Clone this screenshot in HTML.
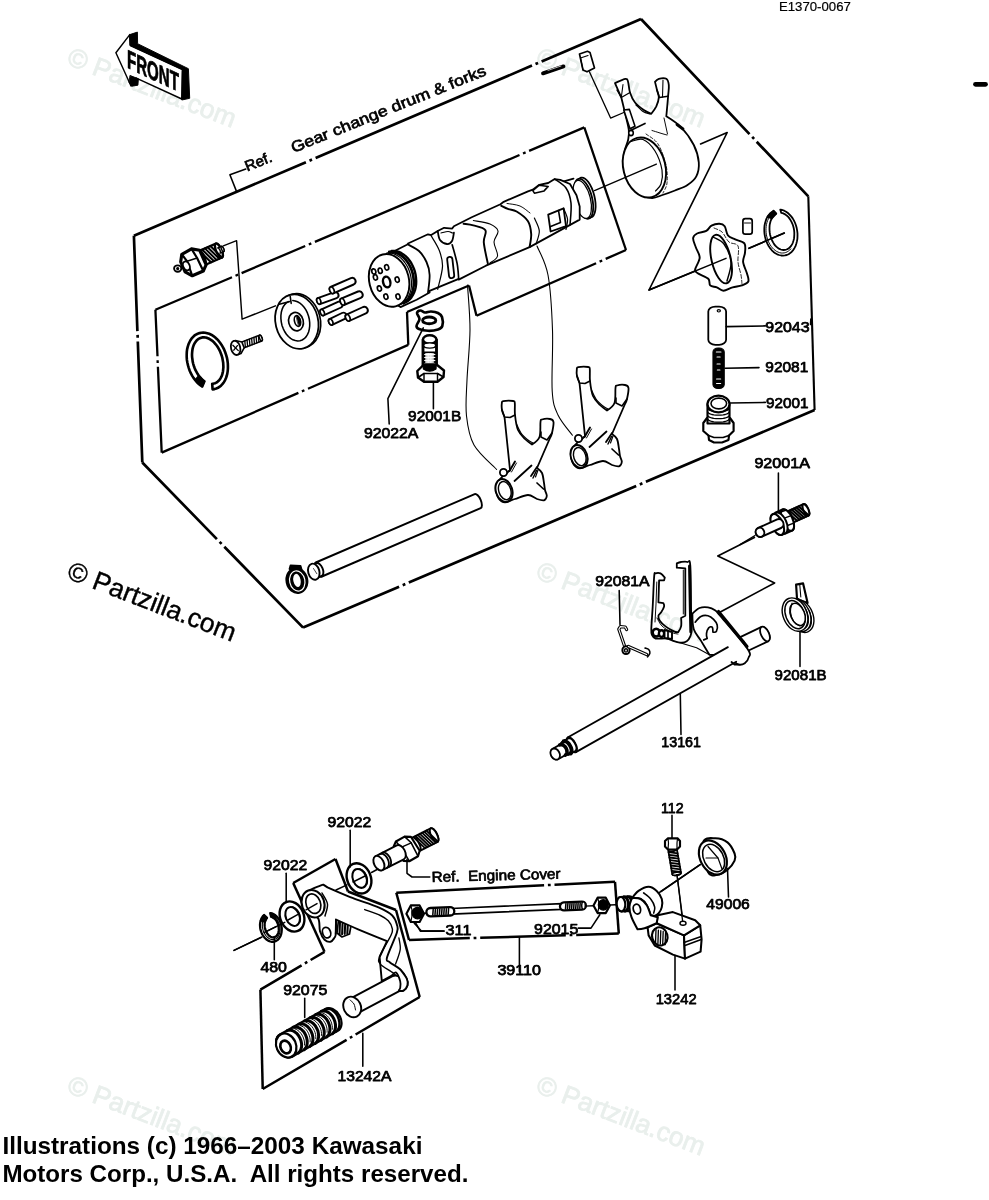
<!DOCTYPE html>
<html><head><meta charset="utf-8"><title>Gear Change Mechanism</title>
<style>
html,body{margin:0;padding:0;background:#fff;}
body{width:989px;height:1200px;overflow:hidden;font-family:"Liberation Sans",sans-serif;}
svg{display:block;will-change:transform;}
svg text{font-family:"Liberation Sans",sans-serif;}
</style></head><body>
<svg width="989" height="1200" viewBox="0 0 989 1200" stroke-linejoin="round" stroke-linecap="round">
<rect width="989" height="1200" fill="#fff"/>
<g id="wm">
<text x="65.8" y="64.1" font-size="26.5" font-weight="normal" fill="#e9efec" stroke="#e9efec" stroke-width="0.8" textLength="178" lengthAdjust="spacingAndGlyphs" transform="rotate(21 65.8 64.1)" text-anchor="start" xml:space="preserve">© Partzilla.com</text>
<text x="65.8" y="578.1" font-size="26.5" font-weight="normal" fill="#000" stroke="#000" stroke-width="0.4" textLength="178" lengthAdjust="spacingAndGlyphs" transform="rotate(21 65.8 578.1)" text-anchor="start" xml:space="preserve">© Partzilla.com</text>
<text x="65.8" y="1092.1" font-size="26.5" font-weight="normal" fill="#e9efec" stroke="#e9efec" stroke-width="0.8" textLength="178" lengthAdjust="spacingAndGlyphs" transform="rotate(21 65.8 1092.1)" text-anchor="start" xml:space="preserve">© Partzilla.com</text>
<text x="534.8" y="64.1" font-size="26.5" font-weight="normal" fill="#e9efec" stroke="#e9efec" stroke-width="0.8" textLength="178" lengthAdjust="spacingAndGlyphs" transform="rotate(21 534.8 64.1)" text-anchor="start" xml:space="preserve">© Partzilla.com</text>
<text x="534.8" y="578.1" font-size="26.5" font-weight="normal" fill="#e9efec" stroke="#e9efec" stroke-width="0.8" textLength="178" lengthAdjust="spacingAndGlyphs" transform="rotate(21 534.8 578.1)" text-anchor="start" xml:space="preserve">© Partzilla.com</text>
<text x="534.8" y="1092.1" font-size="26.5" font-weight="normal" fill="#e9efec" stroke="#e9efec" stroke-width="0.8" textLength="178" lengthAdjust="spacingAndGlyphs" transform="rotate(21 534.8 1092.1)" text-anchor="start" xml:space="preserve">© Partzilla.com</text>
</g>
<g id="frames">
<path d="M133.9 235.7L305.9 162.2M309.5 160.7L312 159.6M315.6 158.1L532 65.6M535.5 64.1L538.1 63M541.6 61.5L641 19" fill="none" stroke="#000" stroke-width="2.7" stroke-linecap="butt"/>
<path d="M641 19L749.5 134.1M752.2 136.9L754.1 138.9M756.7 141.7L808.3 196.4" fill="none" stroke="#000" stroke-width="2.7" stroke-linecap="butt"/>
<path d="M808.3 196.4L814.6 410" fill="none" stroke="#000" stroke-width="2.1" stroke-linecap="butt"/>
<path d="M814.6 410L645.9 481.8M642.4 483.3L639.8 484.4M636.2 485.9L408.8 582.6M405.3 584.1L402.7 585.2M399.1 586.7L303.1 627.6" fill="none" stroke="#000" stroke-width="2.7" stroke-linecap="butt"/>
<path d="M303.1 627.6L224.3 546.7M221.6 543.9L219.6 541.9M216.9 539.1L142.3 462.5" fill="none" stroke="#000" stroke-width="2.7" stroke-linecap="butt"/>
<path d="M142.3 462.5L137.8 341.5M137.7 337.7L137.6 334.9M137.4 331.1L133.9 235.7" fill="none" stroke="#000" stroke-width="2.7" stroke-linecap="butt"/>
<path d="M155.4 309.7L232 277.2M235.5 275.7L238.1 274.6M241.6 273.1L305.2 246M308.8 244.5L311.3 243.4M314.9 241.9L519.5 155M523 153.5L525.6 152.4M529.1 150.9L584.3 127.4" fill="none" stroke="#000" stroke-width="2.3" stroke-linecap="butt"/>
<path d="M584.3 127.4L626 250" fill="none" stroke="#000" stroke-width="2.3" stroke-linecap="butt"/>
<path d="M626 250L605.7 258.9M602.2 260.5L599.6 261.6M596.1 263.2L476.5 315.8" fill="none" stroke="#000" stroke-width="2.3" stroke-linecap="butt"/>
<path d="M476.5 315.8L469 285.5" fill="none" stroke="#000" stroke-width="2.3" stroke-linecap="butt"/>
<path d="M469 285.5L407 312" fill="none" stroke="#000" stroke-width="2.3" stroke-linecap="butt"/>
<path d="M407 312L408.3 344.9" fill="none" stroke="#000" stroke-width="2.3" stroke-linecap="butt"/>
<path d="M408.3 344.9L308 388.7M304.4 390.3L301.9 391.4M298.4 392.9L161.7 452.6" fill="none" stroke="#000" stroke-width="2.3" stroke-linecap="butt"/>
<path d="M161.7 452.6L157.9 366.8M157.7 363L157.6 360.2M157.5 356.3L155.4 309.7" fill="none" stroke="#000" stroke-width="2.3" stroke-linecap="butt"/>
<path d="M700.6 143.9 L727.2 132.5 L649 290 L726 258.4" fill="none" stroke="#000" stroke-width="1.68" />
<path d="M749 248.3 L784.3 233" fill="none" stroke="#000" stroke-width="1.68" />
<path d="M754.4 537.4 L717.8 555.9 L774.6 582.9 L720.3 612" fill="none" stroke="#000" stroke-width="1.68" />
<path d="M293.2 883L335.5 859" fill="none" stroke="#000" stroke-width="2.5" stroke-linecap="butt"/>
<path d="M335.5 859L348 891.5" fill="none" stroke="#000" stroke-width="2.5" stroke-linecap="butt"/>
<path d="M348 891.5L396 910" fill="none" stroke="#000" stroke-width="2.5" stroke-linecap="butt"/>
<path d="M396 910L419.7 997" fill="none" stroke="#000" stroke-width="2.5" stroke-linecap="butt"/>
<path d="M419.7 997L355.6 1034.5M352.3 1036.5L349.9 1037.9M346.6 1039.8L262.7 1089" fill="none" stroke="#000" stroke-width="2.5" stroke-linecap="butt"/>
<path d="M262.7 1089L260.4 989.6" fill="none" stroke="#000" stroke-width="2.5" stroke-linecap="butt"/>
<path d="M260.4 989.6L301.6 965.3M304.9 963.4L307.3 961.9M310.6 960L324.5 951.8" fill="none" stroke="#000" stroke-width="2.5" stroke-linecap="butt"/>
<path d="M324.5 951.8L293.2 883" fill="none" stroke="#000" stroke-width="2.5" stroke-linecap="butt"/>
<path d="M396.3 892.7L544.1 885.3M547.9 885.1L550.7 885M554.5 884.8L615 881.8" fill="none" stroke="#000" stroke-width="2.5" stroke-linecap="butt"/>
<path d="M615 881.8L618.8 933.6" fill="none" stroke="#000" stroke-width="2.5" stroke-linecap="butt"/>
<path d="M618.8 933.6L576.2 934.9M572.4 935L569.6 935.1M565.8 935.2L480.2 937.8M476.4 937.9L473.6 938M469.8 938.1L409 940" fill="none" stroke="#000" stroke-width="2.5" stroke-linecap="butt"/>
<path d="M409 940L396.3 892.7" fill="none" stroke="#000" stroke-width="2.5" stroke-linecap="butt"/>
</g>
<g id="front">
<path d="M115.9 52.8 L129.8 34.6 L130.3 45.5 L182.4 69.5 L181.8 99 L136.3 78.1 L131 86Z" fill="#fff" stroke="#000" stroke-width="1.44" />
<path d="M129.8 34.6 L137.4 32.1 L137.6 43.7 L188.4 68.7 L189.7 98.3 L181.8 100 L182.4 69.5 L130.3 45.5Z" fill="#000" stroke="#000" stroke-width="0.96" />
<path d="M130.3 75.6 L138.4 78.8 L137.9 85.2 L131.8 86.2 L129.3 82.7Z" fill="#000" stroke="#000" stroke-width="0.96" />
<text transform="translate(127,67.6) skewY(25) scale(0.58,1)" font-size="26" font-weight="bold" fill="#000" stroke="#000" stroke-width="0.8">FRONT</text>
</g>
<g id="switch">
<ellipse cx="177.7" cy="268.6" rx="3.6" ry="3.2" transform="rotate(0 177.7 268.6)" fill="#fff" stroke="#000" stroke-width="1.92"/>
<ellipse cx="177.7" cy="268.6" rx="1" ry="1" transform="rotate(0 177.7 268.6)" fill="#000" stroke="#000" stroke-width="1.2"/>
<path d="M205 265L222 257.5A2.7 7.6 -23.6 0 0 215.9 243.6L198.9 251A2.7 7.6 -23.6 0 1 205 265Z" fill="#fff" stroke="#000" stroke-width="2.28" />
<ellipse cx="218.9" cy="250.6" rx="2.7" ry="7.6" transform="rotate(-23.6 218.9 250.6)" fill="#fff" stroke="#000" stroke-width="2.28"/>
<path d="M211 262.3L199.4 250.8M213.8 261.1L202.1 249.6M216.5 259.9L204.9 248.4M219.3 258.7L207.6 247.2M222 257.5L210.4 246" fill="none" stroke="#000" stroke-width="2.04" />
<path d="M220.1 253.1L223.7 251.5A1.1 2.8 -23.6 0 0 221.5 246.4L217.8 248A1.1 2.8 -23.6 0 1 220.1 253.1Z" fill="#fff" stroke="#000" stroke-width="1.56" />
<ellipse cx="222.6" cy="249" rx="1.1" ry="2.8" transform="rotate(-23.6 222.6 249)" fill="#fff" stroke="#000" stroke-width="1.56"/>
<path d="M180.7 261.8 L181.8 254.3 L191.5 248.9 L199.7 250.3 L206.1 264.9 L203.3 271 L192.3 275.8 L185.1 271.9Z" fill="#fff" stroke="#000" stroke-width="3.12" />
<path d="M181.8 254.3 L187 261.2 L192.3 275.8" fill="none" stroke="#000" stroke-width="2.16" />
<path d="M191.5 248.9 L197.1 258 L203.3 271" fill="none" stroke="#000" stroke-width="2.16" />
<path d="M187 261.2 L197.1 258" fill="none" stroke="#000" stroke-width="1.44" />
<ellipse cx="186.4" cy="265.9" rx="3.2" ry="4.6" transform="rotate(-23.6 186.4 265.9)" fill="#fff" stroke="#000" stroke-width="1.8"/>
<path d="M223.3 245.8 L236.6 240.7 L242.1 319.2 L275.4 305.8" fill="none" stroke="#000" stroke-width="1.44" />
</g>
<g id="disc">
<ellipse cx="299" cy="320.8" rx="21.3" ry="27.5" transform="rotate(-14 299 320.8)" fill="#fff" stroke="#000" stroke-width="1.68"/>
<ellipse cx="296.8" cy="321.6" rx="21.3" ry="27.5" transform="rotate(-14 296.8 321.6)" fill="#fff" stroke="#000" stroke-width="1.8"/>
<path d="M292.8 300.6 L295.2 300.9 L297.5 301.8 L299.9 303.1 L302.1 305 L304.1 307.3 L305.9 309.9 L307.4 312.9 L308.5 316 L309.3 319.3 L309.7 322.7 L309.7 326 L309.3 329.1 L308.6 332 L307.4 334.6 L306 336.9 L304.2 338.7 L302.2 340 L300 340.7 L297.7 341 L295.3 340.6 L292.9 339.8 L290.6 338.4 L288.4 336.5 L286.4 334.2 L284.6 331.5 L283.2 328.6 L282 325.4 L281.3 322.1 L280.9 318.7 L280.9 315.5 L281.3 312.3 L282.1 309.4 L283.2 306.8 L284.7 304.6 L286.5 302.8 L288.5 301.6" fill="none" stroke="#000" stroke-width="1.56" />
<path d="M290.2 296.3 L291.2 303.4" fill="none" stroke="#000" stroke-width="1.56" />
<path d="M279.3 304.3 L289.8 301.5" fill="none" stroke="#000" stroke-width="1.56" />
<ellipse cx="296" cy="321.6" rx="7.3" ry="9.3" transform="rotate(-14 296 321.6)" fill="#fff" stroke="#000" stroke-width="1.68"/>
<ellipse cx="297.5" cy="321" rx="3" ry="5.5" transform="rotate(-14 297.5 321)" fill="#fff" stroke="#000" stroke-width="1.56"/>
<path d="M296.2 315.7 L297 315.7 L297.8 316 L298.6 316.7 L299.4 317.7 L300 318.9 L300.4 320.3 L300.7 321.7 L300.7 323 L300.5 324.3 L300.1 325.3 L299.5 326 L298.8 326.3Z" fill="#000" stroke="#000" stroke-width="0.6" />
</g>
<g id="pins">
<path d="M319.9 304.1L336.6 298.2A3.2 3.2 0 0 0 334.4 292.2L317.7 298.1A1.9 3.2 -19.5 0 0 319.9 304.1Z" fill="#fff" stroke="#000" stroke-width="1.92" />
<ellipse cx="318.8" cy="301.1" rx="1.9" ry="3.2" transform="rotate(-19.5 318.8 301.1)" fill="#fff" stroke="#000" stroke-width="1.68"/>
<path d="M323.6 315.4L341.1 307.5A3.2 3.2 0 0 0 338.5 301.7L321 309.6A1.9 3.2 -24.3 0 0 323.6 315.4Z" fill="#fff" stroke="#000" stroke-width="1.92" />
<ellipse cx="322.3" cy="312.5" rx="1.9" ry="3.2" transform="rotate(-24.3 322.3 312.5)" fill="#fff" stroke="#000" stroke-width="1.68"/>
<path d="M332.2 324.9L344.8 318.8A3.2 3.2 0 0 0 342 313L329.4 319.1A1.9 3.2 -25.8 0 0 332.2 324.9Z" fill="#fff" stroke="#000" stroke-width="1.92" />
<ellipse cx="330.8" cy="322" rx="1.9" ry="3.2" transform="rotate(-25.8 330.8 322)" fill="#fff" stroke="#000" stroke-width="1.68"/>
<path d="M333.3 293.4L353.7 284.5A3.5 3.5 0 0 0 350.9 278.1L330.5 287A2.1 3.5 -23.6 0 0 333.3 293.4Z" fill="#fff" stroke="#000" stroke-width="1.92" />
<ellipse cx="331.9" cy="290.2" rx="2.1" ry="3.5" transform="rotate(-23.6 331.9 290.2)" fill="#fff" stroke="#000" stroke-width="1.68"/>
<path d="M343.9 305L360.8 297.9A3.5 3.5 0 0 0 358 291.5L341.1 298.6A2.1 3.5 -22.8 0 0 343.9 305Z" fill="#fff" stroke="#000" stroke-width="1.92" />
<ellipse cx="342.5" cy="301.8" rx="2.1" ry="3.5" transform="rotate(-22.8 342.5 301.8)" fill="#fff" stroke="#000" stroke-width="1.68"/>
<path d="M349.2 321L365.9 313.4A3.5 3.5 0 0 0 363.1 307L346.4 314.6A2.1 3.5 -24.5 0 0 349.2 321Z" fill="#fff" stroke="#000" stroke-width="1.92" />
<ellipse cx="347.8" cy="317.8" rx="2.1" ry="3.5" transform="rotate(-24.5 347.8 317.8)" fill="#fff" stroke="#000" stroke-width="1.68"/>
</g>
<g id="screw">
<path d="M242.3 348.6L261.9 340.9A1.2 3.1 -21.5 0 0 259.6 335.1L240 342.8A1.2 3.1 -21.5 0 1 242.3 348.6Z" fill="#fff" stroke="#000" stroke-width="1.56" />
<ellipse cx="260.7" cy="338" rx="1.2" ry="3.1" transform="rotate(-21.5 260.7 338)" fill="#fff" stroke="#000" stroke-width="1.56"/>
<path d="M245.4 347.4L244.8 340.9M247.6 346.5L247.1 340M249.9 345.6L249.4 339.2M252.2 344.7L251.6 338.3M254.4 343.8L253.9 337.4M256.7 342.9L256.1 336.5M258.9 342L258.4 335.6" fill="none" stroke="#000" stroke-width="1.32" />
<path d="M233 341.4 L235.4 340.5 L241.9 342.1 L244.2 347.9 L241 353.5 L238.2 354.4Z" fill="#fff" stroke="#000" stroke-width="1.56" />
<ellipse cx="235.6" cy="347.9" rx="4.6" ry="7.2" transform="rotate(-14 235.6 347.9)" fill="#fff" stroke="#000" stroke-width="1.8"/>
<path d="M232.9 345.2 L238.3 350.6" fill="none" stroke="#000" stroke-width="1.32" />
<path d="M233.8 350.2 L237.4 345.6" fill="none" stroke="#000" stroke-width="1.32" />
</g>
<g id="circlip1">
<path d="M202.2 386.5 L200.3 385.2 L198.5 383.7 L196.7 382 L195.1 380 L193.5 377.9 L192.1 375.6 L190.8 373.2 L189.7 370.7 L188.8 368.1 L188 365.4 L187.4 362.7 L186.9 359.9 L186.7 357.2 L186.7 354.5 L186.8 351.9 L187.1 349.4 L187.7 346.9 L188.4 344.6 L189.3 342.5 L190.3 340.5 L191.5 338.7 L192.9 337.1 L194.3 335.7 L195.9 334.6 L197.7 333.7 L199.5 333.1 L201.3 332.7 L203.2 332.6 L205.2 332.7 L207.2 333.2 L209.2 333.8 L211.2 334.7 L213.1 335.9 L215 337.3 L216.8 338.9 L218.5 340.7 L220.1 342.8 L221.6 344.9 L223 347.3 L224.2 349.7 L225.2 352.3 L226.1 354.9 L226.9 357.6 L227.4 360.3 L227.8 363.1 L227.9 365.8 L227.9 368.5 L227.7 371.1 L227.3 373.6 L226.7 376 L225.9 378.2 L225 380.3 L223.9 382.2 L222.6 383.9 L221.2 385.4 L219.7 386.7 L218 387.8 L216.3 388.5 L214.5 389.1 L212.6 389.4 L212.2 383.8 L213.6 383.6 L215 383.2 L216.3 382.6 L217.5 381.8 L218.6 380.8 L219.7 379.6 L220.6 378.2 L221.4 376.7 L222.1 375 L222.6 373.2 L223 371.2 L223.2 369.2 L223.4 367.1 L223.3 364.9 L223.2 362.7 L222.8 360.4 L222.4 358.2 L221.8 356 L221 353.8 L220.2 351.7 L219.2 349.7 L218.2 347.8 L217 346 L215.7 344.3 L214.4 342.8 L213 341.4 L211.6 340.3 L210.1 339.3 L208.6 338.5 L207.1 337.9 L205.6 337.5 L204.1 337.4 L202.6 337.4 L201.2 337.7 L199.9 338.2 L198.6 338.9 L197.4 339.8 L196.4 340.8 L195.4 342.1 L194.5 343.5 L193.7 345.1 L193.1 346.9 L192.6 348.7 L192.3 350.7 L192.1 352.8 L192 354.9 L192.1 357.1 L192.4 359.3 L192.7 361.6 L193.2 363.8 L193.9 366 L194.7 368.2 L195.5 370.2 L196.6 372.2 L197.7 374.1 L198.9 375.9 L200.2 377.5 L201.5 378.9 L202.9 380.2 L204.4 381.3Z" fill="#fff" stroke="#000" stroke-width="2.64" />
<path d="M202.2 386.5 L204.4 381.3 L198.9 375.9 L195.1 380Z" fill="#000" stroke="#000" stroke-width="1.8" />
</g>
<g id="drum">
<ellipse cx="586" cy="197.6" rx="8.5" ry="20.5" transform="rotate(-14 586 197.6)" fill="#fff" stroke="#000" stroke-width="1.8"/>
<ellipse cx="583.6" cy="198.8" rx="8.5" ry="20.5" transform="rotate(-14 583.6 198.8)" fill="#fff" stroke="#000" stroke-width="1.8"/>
<ellipse cx="582.2" cy="199.4" rx="8.2" ry="19.5" transform="rotate(-14 582.2 199.4)" fill="#fff" stroke="#000" stroke-width="1.2"/>
<path d="M563 181.6 L573.5 178.6" fill="none" stroke="#000" stroke-width="1.8" />
<path d="M389.1 253.7 L406.9 244.8 L408.5 243.2 L428 234.3 L431.2 235.1 L437.7 231 L444.1 227.8 L452.2 228.6 L453.9 226.2 L471.7 217.3 L500.5 204.2 L503.7 201.8 L528 191.3 L532.8 189.6 L539.3 184.8 L548.2 183 L554.7 179.1 L560.3 179.9 L570 184 L576.5 195.3 L579.7 206.6 L579.7 219.6 L529.6 247.1 L485.9 265.7 L458.7 279.6 L458.7 278.8 L429.6 290.9 L429.6 292.5 L416.6 299.8 L400.5 307.1 L389 300 L380 280 L384 258Z" fill="#fff" stroke="#000" stroke-width="1.8" />
<ellipse cx="389.1" cy="280.4" rx="19.8" ry="26.7" transform="rotate(-14 389.1 280.4)" fill="#fff" stroke="#000" stroke-width="1.92"/>
<path d="M386.9 252.9 L389.3 252.9 L391.7 253.2 L394.1 253.9 L396.4 255 L398.7 256.4 L400.9 258.1 L402.9 260.2 L404.8 262.5 L406.5 265 L408 267.8 L409.2 270.7 L410.2 273.8 L410.9 276.9 L411.3 280 L411.5 283.2 L411.4 286.3 L411 289.3 L410.3 292.1 L409.3 294.8 L408.1 297.3 L406.7 299.5 L405 301.4 L403.1 303 L401.1 304.3" fill="none" stroke="#000" stroke-width="1.2" />
<path d="M389.2 251.9 L391.6 251.9 L394 252.2 L396.4 252.9 L398.7 254 L401 255.4 L403.2 257.1 L405.2 259.2 L407.1 261.5 L408.8 264 L410.3 266.8 L411.5 269.7 L412.5 272.8 L413.2 275.9 L413.6 279 L413.8 282.2 L413.7 285.3 L413.3 288.3 L412.6 291.1 L411.6 293.8 L410.4 296.3 L409 298.5 L407.3 300.4 L405.4 302 L403.4 303.3" fill="none" stroke="#000" stroke-width="2.64" />
<path d="M391.6 250.9 L394 250.9 L396.4 251.2 L398.8 251.9 L401.1 252.9 L403.4 254.4 L405.6 256.1 L407.6 258.1 L409.5 260.4 L411.2 263 L412.6 265.7 L413.9 268.7 L414.9 271.7 L415.6 274.8 L416 278 L416.2 281.1 L416.1 284.2 L415.7 287.2 L415 290.1 L414 292.8 L412.8 295.2 L411.4 297.4 L409.7 299.4 L407.8 301 L405.8 302.2" fill="none" stroke="#000" stroke-width="2.4" />
<ellipse cx="386.7" cy="282" rx="3.6" ry="5.4" transform="rotate(-14 386.7 282)" fill="#fff" stroke="#000" stroke-width="2.4"/>
<ellipse cx="380.2" cy="270.7" rx="2" ry="2.7" transform="rotate(-14 380.2 270.7)" fill="#fff" stroke="#000" stroke-width="1.68"/>
<ellipse cx="386.7" cy="267.4" rx="2" ry="2.7" transform="rotate(-14 386.7 267.4)" fill="#fff" stroke="#000" stroke-width="1.68"/>
<ellipse cx="375.4" cy="277.4" rx="2" ry="2.7" transform="rotate(-14 375.4 277.4)" fill="#fff" stroke="#000" stroke-width="1.68"/>
<ellipse cx="373.8" cy="271.5" rx="2" ry="2.7" transform="rotate(-14 373.8 271.5)" fill="#fff" stroke="#000" stroke-width="1.68"/>
<ellipse cx="397.2" cy="279.6" rx="2" ry="2.7" transform="rotate(-14 397.2 279.6)" fill="#fff" stroke="#000" stroke-width="1.68"/>
<ellipse cx="379.4" cy="288.5" rx="2" ry="2.7" transform="rotate(-14 379.4 288.5)" fill="#fff" stroke="#000" stroke-width="1.68"/>
<ellipse cx="385.9" cy="296.6" rx="2" ry="2.7" transform="rotate(-14 385.9 296.6)" fill="#fff" stroke="#000" stroke-width="1.68"/>
<ellipse cx="398" cy="296.6" rx="2" ry="2.7" transform="rotate(-14 398 296.6)" fill="#fff" stroke="#000" stroke-width="1.68"/>
<path d="M408.5 244.8C410.2 245.8 416 248.1 419 251C422 253.9 424.7 258.1 426.5 262C428.3 265.9 429.4 269.6 429.6 274.7C429.9 279.8 428.3 289.5 428 292.5" fill="none" stroke="#000" stroke-width="1.8" />
<path d="M431.2 235.9C432.6 238.3 437.4 245.4 439.3 250.5C441.2 255.6 442.8 260.1 442.5 266.6C442.2 273.1 438.5 285.5 437.7 289.3" fill="none" stroke="#000" stroke-width="1.2" />
<path d="M452.2 244.8C453 247.9 456 257.7 457.1 263.4C458.2 269.1 458.4 276.2 458.7 278.8" fill="none" stroke="#000" stroke-width="1.68" />
<path d="M447.2 259.8L449 275.8A2.6 2.6 0 0 0 454.2 275.2L452.4 259.2A2.6 2.6 0 0 0 447.2 259.8Z" fill="#fff" stroke="#000" stroke-width="1.8" />
<path d="M437.7 231C438.1 232.5 438.4 237.8 440 240C441.6 242.2 445 243.8 447 244C449 244.2 450.9 242.9 452 241C453.1 239.1 453.6 234.1 453.9 232.7" fill="none" stroke="#000" stroke-width="1.8" />
<path d="M441 233C442.2 232.8 446.1 231.5 448 231.5C449.9 231.5 451.8 232.8 452.5 233" fill="none" stroke="#000" stroke-width="1.2" />
<path d="M463.6 223.8C465.2 224.1 469.7 224.3 473.3 225.4C476.9 226.5 483.6 227.4 485.4 230.2C487.1 233 483.4 236.9 483.8 242.4C484.2 247.9 487.1 259.9 487.8 263.4" fill="none" stroke="#000" stroke-width="1.92" />
<path d="M473.3 220.5C476.1 221.1 485.9 222.2 490 224C494.1 225.8 497.3 228 498 231C498.7 234 494.1 237.8 494 242C493.9 246.2 498.2 252.5 497.5 256C496.8 259.5 491.2 261.8 490 263" fill="none" stroke="#000" stroke-width="1.08" />
<path d="M501.3 205.8C502.5 206.4 505.9 208.2 508.5 209.1C511.1 210 513.4 209.5 516.6 211.5C519.9 213.5 525.6 217.4 528 221.2C530.4 225 530.9 229.8 531.2 234.1C531.5 238.4 529.9 244.9 529.6 247.1" fill="none" stroke="#000" stroke-width="1.92" />
<path d="M507 203.5C509.2 203.9 516.2 204.4 520 206C523.8 207.6 528.3 211.8 530 213" fill="none" stroke="#000" stroke-width="0.96" />
<path d="M534.4 218C535.2 220.2 539 226.6 539.3 230.9C539.6 235.2 536.6 241.7 536.1 243.9" fill="none" stroke="#000" stroke-width="1.2" />
<path d="M532.8 190.6 L539.3 185.2 L548.2 186.4 L544.1 190.9 L534.4 193.2Z" fill="#fff" stroke="#000" stroke-width="1.56" />
<path d="M548.2 214.7 L563.6 208.3 L566 226.1 L550.6 231.5Z" fill="#fff" stroke="#000" stroke-width="1.8" />
<path d="M558.5 210.5 L560.5 222.5 L550.6 226.5" fill="none" stroke="#000" stroke-width="1.56" />
<path d="M563.6 208.3C564.2 210.1 567.1 215.5 567.5 219C567.9 222.5 566.2 227.8 566 229.5" fill="none" stroke="#000" stroke-width="1.2" />
<path d="M554.7 179.1C556.6 180.6 563.3 184 566 188C568.7 192 570.3 196.8 571 203C571.7 209.2 570.2 221.3 570 225" fill="none" stroke="#000" stroke-width="1.56" />
</g>
<g id="bolt92001B">
<path d="M417 313C417.2 311.6 419.2 310.6 420.5 310.5C421.8 310.4 423.2 312.3 425 312.5C426.8 312.7 428.8 311.4 431 311.5C433.2 311.6 436.2 312.1 438 313C439.8 313.9 441.3 314.8 442 317C442.7 319.2 443 323.9 442.3 326C441.6 328.1 440.4 328.7 438 329.5C435.6 330.3 431.2 330.9 428 330.8C424.8 330.7 420.9 329.8 419 329C417.1 328.2 416.4 327.7 416.5 326C416.6 324.3 419.4 321.2 419.5 319C419.6 316.8 416.8 314.4 417 313Z" fill="#fff" stroke="#000" stroke-width="2.64" />
<ellipse cx="429.2" cy="320.4" rx="6.6" ry="3.4" transform="rotate(0 429.2 320.4)" fill="#fff" stroke="#000" stroke-width="2.88"/>
<path d="M423 340 L436.5 340 L436.5 368 L423 368Z" fill="#fff" stroke="#000" stroke-width="2.88" />
<ellipse cx="429.7" cy="339.5" rx="6.7" ry="4.3" transform="rotate(0 429.7 339.5)" fill="#fff" stroke="#000" stroke-width="2.4"/>
<ellipse cx="429.7" cy="345.5" rx="6" ry="2.6" transform="rotate(0 429.7 345.5)" fill="#fff" stroke="#000" stroke-width="1.44"/>
<path d="M423 352H436.5V369H423Z" fill="#000" stroke="#000" stroke-width="1.2" />
<ellipse cx="429.7" cy="354.5" rx="5.2" ry="1" transform="rotate(0 429.7 354.5)" fill="#fff" stroke="#fff" stroke-width="0.96"/>
<ellipse cx="429.7" cy="357.5" rx="5.2" ry="1" transform="rotate(0 429.7 357.5)" fill="#fff" stroke="#fff" stroke-width="0.96"/>
<ellipse cx="429.7" cy="360.5" rx="5.2" ry="1" transform="rotate(0 429.7 360.5)" fill="#fff" stroke="#fff" stroke-width="0.96"/>
<ellipse cx="429.7" cy="363.5" rx="5.2" ry="1" transform="rotate(0 429.7 363.5)" fill="#fff" stroke="#fff" stroke-width="0.96"/>
<path d="M417.3 371 L424 364.5 L436.5 364.5 L444 370.5 L443.5 377 L437.5 381.7 L424 381.7 L418 377.5Z" fill="#fff" stroke="#000" stroke-width="2.4" />
<path d="M423.2 364.5H436.3L436 369Q429.7 373.5 423.4 369Z" fill="#000" stroke="#000" stroke-width="1.2" />
<path d="M418 377.5 L424 373.5 L437.5 373.5 L443.5 377" fill="none" stroke="#000" stroke-width="1.68" />
<path d="M424 373.5 L424 381.7" fill="none" stroke="#000" stroke-width="1.44" />
<path d="M437.5 373.5 L437.5 381.7" fill="none" stroke="#000" stroke-width="1.44" />
</g>
<g id="forks">
<path d="M501.8 403.5C502 402 501.3 401.6 503.2 401.2C505.1 400.8 511.3 400.7 513.2 401C515.1 401.3 514.5 400.9 514.8 403.2C515.1 405.5 514.5 410.5 515 415C515.5 419.5 516.3 426 518 430C519.7 434 522.7 436.6 525 439C527.3 441.4 532 444.5 532 444.5C532 444.5 538.1 440.8 539.5 437C540.9 433.2 540.1 424.9 540.5 422C540.9 419.1 540.4 420 542 419.5C543.6 419 548.1 418.6 550 419C551.9 419.4 553.2 419.7 553.5 422C553.8 424.3 552.6 430.3 552 433C551.4 435.7 550 438 550 438C550 438 537 468 537 468C537 468 540.8 470.5 542 473C543.2 475.5 543.5 480.2 544 483C544.5 485.8 544.5 487.8 545 490C545.5 492.2 547 494.3 546.8 496C546.6 497.7 545.6 499.8 544 500.3C542.4 500.8 539.7 499.9 537 499C534.3 498.1 531.7 495 528 495C524.3 495 518.8 497.8 515 499C511.2 500.2 507.7 502.3 505 502.3C502.3 502.3 500.4 500.9 499 499C497.6 497.1 496.5 493.8 496.3 491C496.1 488.2 496.9 484.5 498 482C499.1 479.5 501.5 477.5 503 476C504.5 474.5 507 473 507 473C507 473 510 470 510 470C510 470 504.5 417 504.5 417C504.5 417 502.4 412.2 502 410C501.6 407.8 501.6 405 501.8 403.5Z" fill="#fff" stroke="#000" stroke-width="1.8" />
<path d="M502 410 L504.5 417 L510 417.5 L515 415" fill="none" stroke="#000" stroke-width="1.56" />
<path d="M541 432 L541 437 L547 440 L552 433" fill="none" stroke="#000" stroke-width="1.56" />
<path d="M516.5 424C517.2 425.5 519.1 430.3 521 433C522.9 435.7 526 438.3 528 440C530 441.7 532.2 442.5 533 443" fill="none" stroke="#000" stroke-width="1.2" />
<ellipse cx="503.5" cy="472.5" rx="3.6" ry="3.6" transform="rotate(0 503.5 472.5)" fill="#fff" stroke="#000" stroke-width="1.8"/>
<ellipse cx="504" cy="490.5" rx="8.2" ry="11.7" transform="rotate(-18 504 490.5)" fill="#fff" stroke="#000" stroke-width="2.04"/>
<ellipse cx="504.8" cy="490.6" rx="6" ry="9.3" transform="rotate(-18 504.8 490.6)" fill="#fff" stroke="#000" stroke-width="1.44"/>
<path d="M509.5 471 L515 461.5" fill="none" stroke="#000" stroke-width="1.92" />
<path d="M511.5 472 L516.5 463" fill="none" stroke="#000" stroke-width="0.96" />
<path d="M514.5 481 L531.5 465.5" fill="none" stroke="#000" stroke-width="1.8" />
<path d="M531 476 L537 467" fill="none" stroke="#000" stroke-width="1.8" />
<path d="M533 478 L536.5 470.5" fill="none" stroke="#000" stroke-width="1.44" />
<path d="M535.5 477 L538 470" fill="none" stroke="#000" stroke-width="1.2" />
<path d="M537 483 L543.5 489" fill="none" stroke="#000" stroke-width="1.68" />
<path d="M576.8 369.5C577 368 576.3 367.6 578.2 367.2C580.1 366.8 586.3 366.7 588.2 367C590.1 367.3 589.5 366.9 589.8 369.2C590.1 371.5 589.5 376.5 590 381C590.5 385.5 591.3 392 593 396C594.7 400 597.7 402.6 600 405C602.3 407.4 607 410.5 607 410.5C607 410.5 613.1 406.8 614.5 403C615.9 399.2 615.1 390.9 615.5 388C615.9 385.1 615.4 386 617 385.5C618.6 385 623.1 384.6 625 385C626.9 385.4 628.2 385.7 628.5 388C628.8 390.3 627.6 396.3 627 399C626.4 401.7 625 404 625 404C625 404 612 434 612 434C612 434 615.8 436.5 617 439C618.2 441.5 618.5 446.2 619 449C619.5 451.8 619.5 453.8 620 456C620.5 458.2 622 460.3 621.8 462C621.6 463.7 620.6 465.8 619 466.3C617.4 466.8 614.7 465.9 612 465C609.3 464.1 606.7 461 603 461C599.3 461 593.8 463.8 590 465C586.2 466.2 582.7 468.3 580 468.3C577.3 468.3 575.5 466.9 574 465C572.5 463.1 571.5 459.8 571.3 457C571.1 454.2 571.9 450.5 573 448C574.1 445.5 576.5 443.5 578 442C579.5 440.5 582 439 582 439C582 439 585 436 585 436C585 436 579.5 383 579.5 383C579.5 383 577.5 378.2 577 376C576.5 373.8 576.6 371 576.8 369.5Z" fill="#fff" stroke="#000" stroke-width="1.8" />
<path d="M577 376 L579.5 383 L585 383.5 L590 381" fill="none" stroke="#000" stroke-width="1.56" />
<path d="M616 398 L616 403 L622 406 L627 399" fill="none" stroke="#000" stroke-width="1.56" />
<path d="M591.5 390C592.2 391.5 594.1 396.3 596 399C597.9 401.7 601 404.3 603 406C605 407.7 607.2 408.5 608 409" fill="none" stroke="#000" stroke-width="1.2" />
<ellipse cx="578.5" cy="438.5" rx="3.6" ry="3.6" transform="rotate(0 578.5 438.5)" fill="#fff" stroke="#000" stroke-width="1.8"/>
<ellipse cx="579" cy="456.5" rx="8.2" ry="11.7" transform="rotate(-18 579 456.5)" fill="#fff" stroke="#000" stroke-width="2.04"/>
<ellipse cx="579.8" cy="456.6" rx="6" ry="9.3" transform="rotate(-18 579.8 456.6)" fill="#fff" stroke="#000" stroke-width="1.44"/>
<path d="M584.5 437 L590 427.5" fill="none" stroke="#000" stroke-width="1.92" />
<path d="M586.5 438 L591.5 429" fill="none" stroke="#000" stroke-width="0.96" />
<path d="M589.5 447 L606.5 431.5" fill="none" stroke="#000" stroke-width="1.8" />
<path d="M606 442 L612 433" fill="none" stroke="#000" stroke-width="1.8" />
<path d="M608 444 L611.5 436.5" fill="none" stroke="#000" stroke-width="1.44" />
<path d="M610.5 443 L613 436" fill="none" stroke="#000" stroke-width="1.2" />
<path d="M612 449 L618.5 455" fill="none" stroke="#000" stroke-width="1.68" />
</g>
<path d="M467.5 285C467.9 292.5 470.1 314.2 470 330C469.9 345.8 467.6 365.7 467 380C466.4 394.3 465.3 405.2 466.5 416C467.7 426.8 469 436.1 474 445C479 453.9 492.8 465.4 496.6 469.5" fill="none" stroke="#000" stroke-width="1.08" />
<path d="M537 246C538.8 250.8 545.4 261 548 275C550.6 289 551.8 310.7 552.5 330C553.2 349.3 551.3 376.8 552.2 391C553.1 405.2 554.6 407.6 558 415C561.4 422.4 570 431.9 572.4 435.3" fill="none" stroke="#000" stroke-width="1.08" />
<g id="topfork">
<path d="M615 83.1C615 83.1 623.4 79 625.6 78.8C627.8 78.6 627.4 79.6 628.1 81.9C628.8 84.2 628.9 89.1 630 92.5C631.1 95.9 632.7 99.6 635 102.5C637.3 105.4 641.1 108.1 643.8 110C646.5 111.9 651.3 113.8 651.3 113.8C651.3 113.8 655 109 656.3 106.3C657.5 103.6 658.7 100.2 658.8 97.5C658.9 94.8 657.6 92.6 657 90C656.4 87.4 655 81.9 655 81.9C655 81.9 656.9 79.3 658.8 78.8C660.7 78.3 664.6 77.8 666.3 78.8C668 79.8 668.5 82.1 668.8 85C669.1 87.9 668.5 91.1 668.1 96.3C667.7 101.5 666.3 116.3 666.3 116.3C666.3 116.3 676.7 122.7 681.3 127.5C685.9 132.3 690.9 139.2 693.8 145C696.7 150.8 698.4 157.3 698.8 162.5C699.2 167.7 698.2 172.6 696.3 176.3C694.4 180.1 691 182.6 687.5 185C684 187.4 679.2 188.8 675 190.5C670.8 192.2 666.3 193.8 662.5 195C658.7 196.2 655.8 198.2 652 198C648.2 197.8 643.7 196.3 640 194C636.3 191.7 632.6 188 630 184C627.4 180 625.4 175.3 624.5 170C623.6 164.7 623.9 157 624.5 152C625.1 147 627.4 143.7 628.1 140C628.8 136.3 629.3 134.5 628.8 130C628.3 125.5 626.2 118.4 625 113C623.8 107.6 621.3 97.5 621.3 97.5C621.3 97.5 615 83.1 615 83.1Z" fill="#fff" stroke="#000" stroke-width="1.8" />
<path d="M617 90 L621.3 97.5 L630 92.5" fill="none" stroke="#000" stroke-width="1.44" />
<path d="M621.3 97.5 L623 84.5" fill="none" stroke="#000" stroke-width="1.08" />
<path d="M657 90 L659.4 97.5 L668.1 96.3" fill="none" stroke="#000" stroke-width="1.44" />
<path d="M662.5 97 L663 80" fill="none" stroke="#000" stroke-width="1.08" />
<path d="M636 105C637.2 106.1 640.7 110 643 111.5C645.3 113 648.8 113.6 650 114" fill="none" stroke="#000" stroke-width="1.2" />
<path d="M677 124.5 L683 129" fill="none" stroke="#000" stroke-width="2.88" />
<ellipse cx="644.4" cy="167.5" rx="21" ry="30.5" transform="rotate(-14 644.4 167.5)" fill="#fff" stroke="#000" stroke-width="1.92"/>
<path d="M631 141.5C633 141.2 639 137.9 643 139.5C647 141.1 651.8 145.9 655 151C658.2 156.1 661 164.5 662 170C663 175.5 662.1 180.5 661 184C659.9 187.5 656.4 189.8 655.5 191" fill="none" stroke="#000" stroke-width="1.2" />
<path d="M646 134C648 135.7 654.7 138.8 658 144C661.3 149.2 664.5 158.5 666 165C667.5 171.5 667.5 178.3 667 183C666.5 187.7 663.7 191.3 663 193" fill="none" stroke="#000" stroke-width="0.84" stroke-dasharray="3 2"/>
<path d="M623.8 110 L629.4 109.4 L635 126.3 L630 128.8Z" fill="#fff" stroke="#000" stroke-width="1.56" />
<path d="M630.5 130.5 L645 123.5" fill="none" stroke="#000" stroke-width="1.68" />
<ellipse cx="631" cy="133" rx="2.3" ry="2.6" transform="rotate(0 631 133)" fill="#fff" stroke="#000" stroke-width="1.56"/>
<path d="M652 130.5C653.3 130.9 657.5 132.2 660 133C662.5 133.8 665.8 134.7 667 135" fill="none" stroke="#000" stroke-width="0.96" />
<path d="M664 118 L667.5 134" fill="none" stroke="#000" stroke-width="0.96" />
<path d="M594.5 190.6 L656.4 164.1" fill="none" stroke="#000" stroke-width="1.32" />
</g>
<g id="toppin">
<path d="M579.5 54 L587.5 51.3 L590 52.5 L594.5 68 L587 71.8 L583 70Z" fill="#fff" stroke="#000" stroke-width="1.68" />
<path d="M583 70 L580.5 58 L588 55.5" fill="none" stroke="#000" stroke-width="1.2" />
<path d="M589.4 71.8 L610.6 118.1 L623.8 112.5" fill="none" stroke="#000" stroke-width="1.32" />
<path d="M543 73.4 L563.5 66.4" fill="none" stroke="#000" stroke-width="3.84" />
<path d="M548 70.4 L561 66" fill="none" stroke="#bbb" stroke-width="0.96" />
</g>
<g id="star">
<path d="M693.1 238.1C693.3 235.8 694.9 234.7 697.1 233.5C699.3 232.3 703.9 232.2 706.3 230.9C708.7 229.6 709.3 226.8 711.5 225.6C713.7 224.4 717.2 223.6 719.4 223.7C721.6 223.8 723.3 224.3 724.7 226.3C726.1 228.3 726.2 233.3 728 235.5C729.8 237.7 732.5 238.1 735.2 239.4C737.9 240.7 742.8 241.2 744.4 243.4C746 245.6 745.2 249.5 745 252.6C744.8 255.7 742.8 258.3 743.1 261.8C743.4 265.3 746.1 270.3 747 273.6C747.9 276.9 749.2 279.5 748.3 281.5C747.4 283.5 744.4 284.4 741.8 285.4C739.2 286.4 735.7 286.5 732.6 287.4C729.5 288.3 726 290.7 723.4 290.7C720.8 290.7 719 288.3 716.8 287.4C714.6 286.5 711.6 286.8 710.2 285.4C708.8 284 710.3 280.8 708.3 278.8C706.3 276.8 700.6 275.1 698.4 273.6C696.2 272.1 694.9 272.2 695.1 269.6C695.3 267 699.6 261.5 699.7 257.8C699.8 254.1 696.9 250.6 695.8 247.3C694.7 244 692.9 240.4 693.1 238.1Z" fill="#fff" stroke="#000" stroke-width="1.92" />
<path d="M714 228C715.3 228.7 719.5 229.7 722 232C724.5 234.3 726.3 239.7 729 242C731.7 244.3 736.5 242.7 738 246C739.5 249.3 737.5 257.2 738 262C738.5 266.8 740.3 271.3 741 275C741.7 278.7 741.8 282.5 742 284" fill="none" stroke="#000" stroke-width="0.84" stroke-dasharray="4 2"/>
<ellipse cx="721.1" cy="259.1" rx="9.6" ry="24.8" transform="rotate(-13 721.1 259.1)" fill="#fff" stroke="#000" stroke-width="1.92"/>
<path d="M713 237C714.8 238.2 721 239.8 724 244C727 248.2 730.5 255.8 731 262C731.5 268.2 727.7 277.8 727 281" fill="none" stroke="#000" stroke-width="1.44" />
<path d="M649 290 L726 258.4" fill="none" stroke="#000" stroke-width="1.56" />
</g>
<rect x="742.9" y="218.6" width="9.3" height="15.6" rx="2.4" fill="#fff" stroke="#000" stroke-width="1.7"/>
<path d="M744.5 223 L750.5 223" fill="none" stroke="#000" stroke-width="0.96" />
<g id="circlip2">
<path d="M780.3 209.7 L782.3 210 L784.2 210.7 L786.1 211.7 L787.9 213 L789.6 214.6 L791.2 216.4 L792.7 218.4 L794 220.6 L795.1 223 L796 225.5 L796.7 228.1 L797.2 230.8 L797.5 233.5 L797.5 236.2 L797.4 238.8 L796.9 241.4 L796.3 243.8 L795.5 246.1 L794.4 248.2 L793.2 250.1 L791.8 251.7 L790.2 253.1 L788.6 254.2 L786.8 255 L784.9 255.4 L783 255.6 L781.1 255.5 L779.1 255 L777.2 254.3 L775.3 253.2 L773.5 251.9 L771.8 250.3 L770.3 248.4 L768.8 246.3 L767.6 244.1 L766.5 241.7 L765.6 239.1 L765 236.5 L764.5 233.8 L764.3 231.1 L764.3 228.4 L764.5 225.8 L765 223.3 L765.7 220.9 L766.5 218.6 L767.6 216.6 L768.9 214.8 L770.3 213.2 L771.9 211.9 L773.6 210.8 L776.2 213.7 L775 214.5 L773.8 215.6 L772.7 216.9 L771.8 218.3 L771 220 L770.4 221.8 L769.9 223.7 L769.6 225.7 L769.5 227.8 L769.5 230 L769.7 232.2 L770 234.4 L770.6 236.5 L771.3 238.6 L772.1 240.5 L773.1 242.4 L774.1 244.1 L775.3 245.6 L776.6 246.9 L778 248 L779.4 248.9 L780.8 249.5 L782.3 249.9 L783.7 250 L785.2 249.9 L786.5 249.5 L787.9 248.9 L789.1 248 L790.2 247 L791.3 245.6 L792.2 244.1 L792.9 242.5 L793.5 240.6 L794 238.7 L794.2 236.6 L794.3 234.5 L794.3 232.3 L794.1 230.1 L793.7 228 L793.1 225.8 L792.4 223.8 L791.5 221.9 L790.5 220.1 L789.4 218.4 L788.2 216.9 L786.9 215.7 L785.5 214.6 L784.1 213.8 L782.7 213.2 L781.2 212.8Z" fill="#fff" stroke="#000" stroke-width="1.8" />
<path d="M773.6 210.8 L767.6 216.6 L771.8 218.3 L776.2 213.7Z" fill="#000" stroke="#000" stroke-width="1.8" />
<path d="M790.8 248.9 L789.7 250.1 L788.4 251.1 L787.1 251.9 L785.7 252.5 L784.2 252.9 L782.7 253 L781.2 253 L779.7 252.7 L778.1 252.1 L776.6 251.4 L775.2 250.4 L773.8 249.3 L772.5 248 L771.3 246.5 L770.1 244.8 L769.1 243 L768.2 241.1 L767.5 239.1 L766.9 237 L766.4 234.9 L766.1 232.7 L766 230.6 L766 228.4 L766.2 226.4 L766.5 224.3 L767 222.4 L767.6 220.6 L768.4 218.9 L769.3 217.3 L770.4 215.9" fill="none" stroke="#000" stroke-width="0.96" />
<path d="M810.9 319 L810.6 324.5" fill="none" stroke="#000" stroke-width="1.68" />
<path d="M749 248.3 L784.3 233" fill="none" stroke="#000" stroke-width="1.56" />
</g>
<g id="detent">
<rect x="708.3" y="306.6" width="17.8" height="38.2" rx="7" ry="5" fill="#fff" stroke="#000" stroke-width="1.8"/>
<ellipse cx="718.8" cy="310.8" rx="1.6" ry="1.2" transform="rotate(0 718.8 310.8)" fill="#fff" stroke="#000" stroke-width="1.2"/>
<rect x="713" y="348" width="11.2" height="40.5" rx="5" ry="4" fill="#000" stroke="#000" stroke-width="1.2"/>
<path d="M716.4 352 L720.9 352" fill="none" stroke="#fff" stroke-width="1.2" />
<path d="M717.1 357 L720.1 357" fill="none" stroke="#fff" stroke-width="1.2" />
<path d="M717.1 364 L720.1 364" fill="none" stroke="#fff" stroke-width="1.2" />
<path d="M717.4 370 L719.9 370" fill="none" stroke="#fff" stroke-width="1.2" />
<path d="M716.6 379 L720.6 379" fill="none" stroke="#fff" stroke-width="1.2" />
<path d="M716.6 383.5 L720.6 383.5" fill="none" stroke="#fff" stroke-width="1.2" />
<path d="M703.3 423 L707 418 L730 418 L733.6 423 L733.6 431 L729 435.5 L728.5 440 L722 442.5 L714 442.5 L709 440 L708.5 435.5 L703.3 431Z" fill="#fff" stroke="#000" stroke-width="2.16" />
<path d="M708.5 435.5 L714 437.5 L723 437.5 L729 435.5" fill="none" stroke="#000" stroke-width="1.68" />
<path d="M707.5 404 L729.5 404 L729.5 423.5 L707.5 423.5Z" fill="#fff" stroke="#000" stroke-width="2.16" />
<path d="M728.8 409.1 L728.1 409.8 L726.9 410.4 L725.2 411 L723.2 411.4 L720.9 411.6 L718.5 411.7 L716.1 411.6 L713.8 411.4 L711.8 411 L710.1 410.4 L708.9 409.8 L708.2 409.1" fill="none" stroke="#000" stroke-width="1.32" />
<path d="M728.8 412.6 L728.1 413.3 L726.9 413.9 L725.2 414.5 L723.2 414.9 L720.9 415.1 L718.5 415.2 L716.1 415.1 L713.8 414.9 L711.8 414.5 L710.1 413.9 L708.9 413.3 L708.2 412.6" fill="none" stroke="#000" stroke-width="1.32" />
<path d="M728.8 416.1 L728.1 416.8 L726.9 417.4 L725.2 418 L723.2 418.4 L720.9 418.6 L718.5 418.7 L716.1 418.6 L713.8 418.4 L711.8 418 L710.1 417.4 L708.9 416.8 L708.2 416.1" fill="none" stroke="#000" stroke-width="1.32" />
<path d="M728.8 419.6 L728.1 420.3 L726.9 420.9 L725.2 421.5 L723.2 421.9 L720.9 422.1 L718.5 422.2 L716.1 422.1 L713.8 421.9 L711.8 421.5 L710.1 420.9 L708.9 420.3 L708.2 419.6" fill="none" stroke="#000" stroke-width="1.32" />
<ellipse cx="718.5" cy="404" rx="11" ry="8.3" transform="rotate(0 718.5 404)" fill="#fff" stroke="#000" stroke-width="2.16"/>
<ellipse cx="718.8" cy="403.5" rx="7.8" ry="5.4" transform="rotate(0 718.8 403.5)" fill="#fff" stroke="#000" stroke-width="1.56"/>
</g>
<g id="forkrod">
<path d="M321.9 576.5L480.7 508.1A3.2 7.6 -23.3 0 0 474.7 494.1L315.8 562.5A3.2 7.6 -23.3 0 0 321.9 576.5Z" fill="#fff" stroke="#000" stroke-width="1.92" />
<ellipse cx="318.9" cy="569.5" rx="3.2" ry="7.6" transform="rotate(-23.3 318.9 569.5)" fill="#fff" stroke="#000" stroke-width="1.92"/>
<path d="M316.6 578.1L321.6 576A3.9 7 -23.3 0 0 316.1 563.1L311 565.3A3.9 7 -23.3 0 0 316.6 578.1Z" fill="#fff" stroke="#000" stroke-width="1.92" />
<ellipse cx="313.8" cy="571.7" rx="3.9" ry="7" transform="rotate(-23.3 313.8 571.7)" fill="#fff" stroke="#000" stroke-width="1.92"/>
<ellipse cx="313.8" cy="571.7" rx="5.6" ry="8.2" transform="rotate(-16 313.8 571.7)" fill="#fff" stroke="#000" stroke-width="1.92"/>
<path d="M313.5 568.5 L316.8 573.7" fill="none" stroke="#000" stroke-width="0.72" />
<ellipse cx="296.9" cy="580.6" rx="10.2" ry="12.2" transform="rotate(-12 296.9 580.6)" fill="#000" stroke="#000" stroke-width="2.4"/>
<path d="M289.5 569 L290.5 565.5 L300.5 565.8 L302 571Z" fill="#000" stroke="#000" stroke-width="1.8" />
<ellipse cx="297.3" cy="581" rx="7.6" ry="10.2" transform="rotate(-12 297.3 581)" fill="#000" stroke="#fff" stroke-width="1.2"/>
<ellipse cx="297" cy="580.4" rx="4.6" ry="7.6" transform="rotate(-12 297 580.4)" fill="#fff" stroke="#000" stroke-width="1.92"/>
</g>
<g id="bolt92001A">
<path d="M755 535.5 L740 544.6" fill="none" stroke="#000" stroke-width="1.44" />
<path d="M792 523L808.4 515.6A2.5 6.2 -24.2 0 0 803.3 504.3L786.9 511.7A2.5 6.2 -24.2 0 1 792 523Z" fill="#fff" stroke="#000" stroke-width="2.04" />
<ellipse cx="805.9" cy="509.9" rx="2.5" ry="6.2" transform="rotate(-24.2 805.9 509.9)" fill="#fff" stroke="#000" stroke-width="2.04"/>
<path d="M797.1 520.7L786.9 511.7M799.4 519.6L789.3 510.6M801.8 518.6L791.6 509.5M804.1 517.5L794 508.5M806.5 516.4L796.3 507.4M808.9 515.4L798.7 506.4" fill="none" stroke="#000" stroke-width="2.04" />
<path d="M784.8 533.8L792.1 530.5A5.2 11.5 -24.2 0 0 782.6 509.5L775.4 512.8A5.2 11.5 -24.2 0 1 784.8 533.8Z" fill="#fff" stroke="#000" stroke-width="2.04" />
<ellipse cx="787.4" cy="520" rx="5.2" ry="11.5" transform="rotate(-24.2 787.4 520)" fill="#fff" stroke="#000" stroke-width="2.04"/>
<path d="M777.6 512.9 L785.7 510.3" fill="none" stroke="#000" stroke-width="1.68" />
<path d="M782.5 518.9 L790.4 515.9" fill="none" stroke="#000" stroke-width="1.44" />
<path d="M786.2 526 L793.7 523.2" fill="none" stroke="#000" stroke-width="1.44" />
<path d="M781.9 534.7L785.6 533.1A5.6 11.2 -24.2 0 0 776.4 512.7L772.7 514.3A5.6 11.2 -24.2 0 0 781.9 534.7Z" fill="#fff" stroke="#000" stroke-width="2.04" />
<ellipse cx="777.3" cy="524.5" rx="5.6" ry="11.2" transform="rotate(-24.2 777.3 524.5)" fill="#fff" stroke="#000" stroke-width="2.04"/>
<path d="M761.9 536.6L781.1 528A4.2 4.7 -24.2 0 0 777.2 519.4L758.1 528A4.2 4.7 -24.2 0 0 761.9 536.6Z" fill="#fff" stroke="#000" stroke-width="1.92" />
<ellipse cx="760" cy="532.3" rx="4.2" ry="4.7" transform="rotate(-24.2 760 532.3)" fill="#fff" stroke="#000" stroke-width="1.92"/>
</g>
<g id="shaft13161">
<path d="M744.9 652.3L768.4 641.1A4 7.9 -25.5 0 0 761.6 626.9L738.1 638.1A4 7.9 -25.5 0 1 744.9 652.3Z" fill="#fff" stroke="#000" stroke-width="1.8" />
<ellipse cx="765" cy="634" rx="4" ry="7.9" transform="rotate(-25.5 765 634)" fill="#fff" stroke="#000" stroke-width="1.8"/>
<path d="M692.4 613.7C692.4 613.7 696.9 609.1 699.5 608C702.1 606.9 705.4 606.9 708 607.3C710.6 607.7 712.9 608.7 715 610.2C717.1 611.7 715.3 610 720.7 616.5C726.1 623 743 642.2 747.6 649.1C752.2 656 749.1 655.2 748.6 657.6C748.1 660 746.4 662 744.8 663.2C743.2 664.4 740.9 664.9 739.1 664.7C737.3 664.5 734.1 661.8 734.1 661.8C734.1 661.8 720 655 720 655C720 655 709.4 654.8 709.4 654.8C709.4 654.8 703.5 644.9 700.9 640.6C698.3 636.4 695.2 633.8 693.8 629.3C692.4 624.8 692.4 613.7 692.4 613.7Z" fill="#fff" stroke="#000" stroke-width="1.8" />
<path d="M718.5 611.5 L747 646.5" fill="none" stroke="#000" stroke-width="3.12" />
<path d="M695.2 622.2C695.2 622.2 698.8 617.6 700.9 616.5C703 615.4 705.9 615.3 708 615.8C710.1 616.3 712.1 617.9 713.6 619.4C715.1 620.9 716.7 623 717.2 625C717.7 627 717.1 630.2 716.4 631.4C715.7 632.6 712.9 632.1 712.9 632.1C712.9 632.1 712.9 627.9 712.2 627.2C711.5 626.5 709.7 626.9 708.7 627.9C707.8 628.9 706.8 631.7 706.5 633.5C706.2 635.3 707.2 638.5 707.2 638.5C707.2 638.5 703.7 639.9 703.7 639.9" fill="none" stroke="#000" stroke-width="1.68" />
<path d="M575.9 752.1L736.2 661.8L727.9 647.1L567.6 737.5A3.8 8.4 -29.4 0 0 575.9 752.1Z" fill="#fff" stroke="#fff" stroke-width="0.01" />
<path d="M575.9 752.1L736.2 661.8M567.6 737.5L727.9 647.1" fill="none" stroke="#000" stroke-width="1.8" />
<ellipse cx="571.8" cy="744.8" rx="3.8" ry="8.4" transform="rotate(-29.4 571.8 744.8)" fill="#fff" stroke="#000" stroke-width="1.8"/>
<path d="M569.2 754.5L575.3 751A3.6 7.2 -29.4 0 0 568.2 738.5L562.1 741.9A3.6 7.2 -29.4 0 0 569.2 754.5Z" fill="#fff" stroke="#000" stroke-width="1.8" />
<ellipse cx="565.7" cy="748.2" rx="3.6" ry="7.2" transform="rotate(-29.4 565.7 748.2)" fill="#fff" stroke="#000" stroke-width="1.8"/>
<path d="M558.1 759.2L569.4 752.9A4.4 5.9 -29.4 0 0 563.6 742.6L552.3 749A4.4 5.9 -29.4 0 0 558.1 759.2Z" fill="#fff" stroke="#000" stroke-width="1.8" />
<ellipse cx="555.2" cy="754.1" rx="4.4" ry="5.9" transform="rotate(-29.4 555.2 754.1)" fill="#fff" stroke="#000" stroke-width="1.8"/>
<path d="M559.6 744.9 L560.9 744.6 L562.3 744.8 L563.7 745.5 L565 746.6 L566 748 L566.7 749.6 L567 751.3 L566.8 752.8 L566.3 754.1 L565.4 755.1" fill="none" stroke="#000" stroke-width="3.6" />
<path d="M563.7 741.1 L564.9 741 L566.2 741.5 L567.6 742.5 L568.9 743.9 L570.1 745.7 L571 747.6 L571.5 749.5 L571.7 751.2 L571.4 752.6 L570.8 753.6" fill="none" stroke="#000" stroke-width="3.84" />
<path d="M672.6 640.6 L696.6 647.7 L709.4 654.8" fill="none" stroke="#000" stroke-width="1.08" />
<path d="M731.5 662 L734.5 664.5 L739.1 664.7" fill="none" stroke="#000" stroke-width="1.8" />
<path d="M654.2 576.2C654.7 570.7 654.6 573.9 655.6 573.4C656.6 572.9 659 572.7 660.5 573.4C662 574.1 664.8 577.6 664.8 577.6C664.8 577.6 664.1 580.4 664.1 580.4C664.1 580.4 659.1 580.4 659.1 580.4C659.1 580.4 658.4 602.4 658.4 602.4C658.4 602.4 663.4 603.1 663.4 603.1C663.4 603.1 664.5 605.1 664.1 606.6C663.7 608.1 662.2 610.8 661.2 612.3C660.2 613.8 658.6 614.4 658.4 615.8C658.2 617.2 658.6 619 659.8 620.8C661 622.6 663.1 624.6 665.5 626.4C667.9 628.2 671.9 630.4 674 631.4C676.1 632.4 678.2 632.1 678.2 632.1C678.2 632.1 680.6 628.8 681.1 626.4C681.6 624 681.1 618 681.1 618C681.1 618 685.3 615.8 685.3 615.8C685.3 615.8 685.3 568.4 685.3 568.4C685.3 568.4 676.8 567.7 676.8 567.7C676.8 567.7 676.8 563.4 676.8 563.4C676.8 563.4 679.3 562.2 681.1 562C682.9 561.8 685.9 561.4 687.4 562C688.9 562.6 689.7 557.7 690.3 565.6C690.9 573.5 690.8 598.9 691 609.5C691.2 620.1 691.8 624.8 691.7 629.3C691.6 633.8 691.1 634.4 690.3 636.4C689.5 638.4 688.2 640.2 686.7 641.3C685.2 642.3 683.5 642.8 681.1 642.7C678.8 642.6 675 641.3 672.6 640.6C670.2 639.9 669.7 638.9 666.9 638.5C664.1 638.1 658.1 639.1 655.6 638.5C653.1 637.9 652.7 636.4 652 634.9C651.3 633.4 651.2 634 651.3 629.3C651.4 624.6 652.2 615.5 652.7 606.6C653.2 597.8 653.7 581.7 654.2 576.2Z" fill="#fff" stroke="#000" stroke-width="1.8" />
<path d="M689.5 566 L690.3 609.5 L690.8 632" fill="none" stroke="#000" stroke-width="2.88" />
<path d="M656.8 582 L656 604 L655 622" fill="none" stroke="#000" stroke-width="0.96" />
<path d="M683.3 570 L683.3 614" fill="none" stroke="#000" stroke-width="0.96" />
<path d="M657 618C657.8 619.3 659.5 623.6 662 626C664.5 628.4 669.3 631.2 672 632.5C674.7 633.8 677 633.8 678 634" fill="none" stroke="#000" stroke-width="0.96" />
<ellipse cx="656.2" cy="632.6" rx="3.6" ry="3.9" transform="rotate(0 656.2 632.6)" fill="#fff" stroke="#000" stroke-width="2.64"/>
<ellipse cx="661.5" cy="633.6" rx="2.6" ry="3.4" transform="rotate(0 661.5 633.6)" fill="#fff" stroke="#000" stroke-width="2.4"/>
<path d="M664.5 630 L672 632 L672 639 L664.5 638Z" fill="#fff" stroke="#000" stroke-width="1.92" />
<path d="M668 631 L668 638.5" fill="none" stroke="#000" stroke-width="1.68" />
</g>
<g id="sp92081A">
<path d="M626.6 629.6 L625.2 627 L620.4 626.6 L618.8 629.2 L624.4 645.6" fill="none" stroke="#000" stroke-width="3.24" />
<path d="M626.6 629.6 L625.2 627 L620.4 626.6 L618.8 629.2 L624.4 645.6" fill="none" stroke="#fff" stroke-width="1.08" />
<ellipse cx="626" cy="650.2" rx="3.6" ry="3.9" transform="rotate(0 626 650.2)" fill="#fff" stroke="#000" stroke-width="2.04"/>
<ellipse cx="626" cy="650.4" rx="1.5" ry="1.7" transform="rotate(0 626 650.4)" fill="#fff" stroke="#000" stroke-width="1.44"/>
<path d="M628.4 646.4 L646.6 654.6" fill="none" stroke="#000" stroke-width="3.24" />
<path d="M628.4 646.4 L646.6 654.6" fill="none" stroke="#fff" stroke-width="1.08" />
<path d="M645 648C645.6 648.3 647.9 648.7 648.7 649.6C649.5 650.5 650.1 652 649.9 653.2C649.7 654.4 647.9 656.3 647.5 656.9" fill="none" stroke="#000" stroke-width="1.56" />
</g>
<g id="sp92081B">
<path d="M796.1 584.6 L803.1 583.4 L807.6 603 L799.5 600 L797 598.5Z" fill="#fff" stroke="#000" stroke-width="2.16" />
<path d="M799.8 585 L800.8 597" fill="none" stroke="#000" stroke-width="1.08" />
<ellipse cx="801.6" cy="616.2" rx="10.2" ry="15.6" transform="rotate(-22 801.6 616.2)" fill="#fff" stroke="#000" stroke-width="3.84"/>
<ellipse cx="801.6" cy="616.2" rx="10.2" ry="15.6" transform="rotate(-22 801.6 616.2)" fill="none" stroke="#fff" stroke-width="1.08"/>
<ellipse cx="798.6" cy="615.4" rx="10.2" ry="15.6" transform="rotate(-22 798.6 615.4)" fill="#fff" stroke="#000" stroke-width="3.84"/>
<ellipse cx="798.6" cy="615.4" rx="10.2" ry="15.6" transform="rotate(-22 798.6 615.4)" fill="none" stroke="#fff" stroke-width="1.08"/>
<ellipse cx="795" cy="614.6" rx="10.6" ry="16" transform="rotate(-22 795 614.6)" fill="#fff" stroke="#000" stroke-width="4.08"/>
<ellipse cx="795" cy="614.6" rx="10.6" ry="16" transform="rotate(-22 795 614.6)" fill="none" stroke="#fff" stroke-width="1.2"/>
<ellipse cx="797.6" cy="614.4" rx="7" ry="11.6" transform="rotate(-22 797.6 614.4)" fill="#fff" stroke="#000" stroke-width="1.56"/>
<path d="M792 603C791.8 604.5 790.2 608.8 790.5 612C790.8 615.2 792.4 619.7 794 622C795.6 624.3 799 625.3 800 626" fill="none" stroke="#000" stroke-width="1.08" />
</g>
<g id="stud">
<path d="M419.8 850.9L437.6 841.8A3 7.6 -27 0 0 430.7 828.3L412.9 837.4A3 7.6 -27 0 1 419.8 850.9Z" fill="#fff" stroke="#000" stroke-width="2.04" />
<ellipse cx="434.1" cy="835.1" rx="3" ry="7.6" transform="rotate(-27 434.1 835.1)" fill="#fff" stroke="#000" stroke-width="2.04"/>
<path d="M425 848.2L413.4 837.1M427.2 847.1L415.5 836M429.3 846L417.7 834.9M431.5 844.9L419.9 833.8M433.7 843.8L422 832.7M435.8 842.7L424.2 831.6M438 841.6L426.3 830.5" fill="none" stroke="#000" stroke-width="1.8" />
<path d="M393.8 846.1 L395.9 841.5 L404.6 836.6 L410.9 836.8 L419.7 850.8 L418 856.2 L409.3 861.2 L403.5 860.8Z" fill="#fff" stroke="#000" stroke-width="2.16" />
<path d="M395.9 841.5 L401.1 847.4 L409.3 861.2" fill="none" stroke="#000" stroke-width="1.56" />
<path d="M404.6 836.6 L411.2 842.8 L418 856.2" fill="none" stroke="#000" stroke-width="1.56" />
<path d="M401.1 847.4 L411.2 842.8" fill="none" stroke="#000" stroke-width="1.44" />
<path d="M382.4 870.1L403.8 859.3A4.8 7.8 -27 0 0 396.7 845.4L375.4 856.3A4.8 7.8 -27 0 0 382.4 870.1Z" fill="#fff" stroke="#000" stroke-width="1.92" />
<ellipse cx="378.9" cy="863.2" rx="4.8" ry="7.8" transform="rotate(-27 378.9 863.2)" fill="#fff" stroke="#000" stroke-width="1.92"/>
<path d="M380.2 853.8 L381.7 853.7 L383.3 854.2 L384.9 855.2 L386.4 856.8 L387.6 858.8 L388.5 860.9 L388.9 863 L388.8 865 L388.2 866.6 L387.3 867.7" fill="none" stroke="#000" stroke-width="1.8" />
<path d="M382.4 852.7 L383.9 852.5 L385.5 853 L387.1 854.1 L388.6 855.7 L389.9 857.6 L390.7 859.7 L391.1 861.9 L391 863.8 L390.5 865.4 L389.5 866.5" fill="none" stroke="#000" stroke-width="1.8" />
</g>
<path d="M234 950.4 L262 937" fill="none" stroke="#000" stroke-width="1.44" />
<g id="lever">
<path d="M338.5 920 L351 925.5 L349.5 934 L342 937 L337 933Z" fill="#fff" stroke="#000" stroke-width="1.68" />
<path d="M340 922 L339.5 934.5" fill="none" stroke="#000" stroke-width="2.04" />
<path d="M342.6 923 L342.1 934.2" fill="none" stroke="#000" stroke-width="2.04" />
<path d="M345.2 924 L344.7 933.9" fill="none" stroke="#000" stroke-width="2.04" />
<path d="M347.8 925 L347.3 933.6" fill="none" stroke="#000" stroke-width="2.04" />
<path d="M308.1 891.2C311.7 888.6 323.3 884.6 323.3 884.6C323.3 884.6 327.5 887.4 327.5 887.4C327.5 887.4 341.6 893.7 350.2 897.1C358.8 900.5 372.1 904.5 379.1 907.6C386.1 910.7 389.3 912.6 392.3 915.5C395.3 918.4 396.1 921.9 396.9 924.7C397.7 927.6 398.5 927.1 396.9 932.6C395.2 938.1 388.2 952.7 387 957.6C385.8 962.5 387.5 960.2 389.7 962.2C391.9 964.2 397.4 966.7 400.2 969.4C403 972.1 405.5 976 406.7 978.6C407.9 981.2 408.1 983.2 407.6 985.2C407.1 987.2 404.9 989.7 403.5 990.6C402.1 991.5 398.9 990.8 398.9 990.8C398.9 990.8 392.3 975.3 392.3 975.3C392.3 975.3 381.8 981 381.8 981C381.8 981 379.6 957 379.6 957C379.6 957 387 941.1 387 941.1C387 941.1 366.6 932.9 358.1 929.3C349.6 925.7 336 919.5 336 919.5C336 919.5 336.1 931 335.8 934C335.5 937 335.3 936.5 334.4 937.8C333.5 939.1 332.1 941.5 330.5 941.8C328.9 942.1 326.4 941.5 324.6 939.8C322.9 938 321.1 934.9 320 931.3C318.9 927.7 320.3 921.3 318 918.1C315.7 914.9 308.8 915 306 912C303.2 909 301.1 903.5 301.5 900C301.9 896.5 304.5 893.8 308.1 891.2Z" fill="#fff" stroke="#000" stroke-width="1.92" />
<path d="M364.7 909.6C367.3 910.6 376.5 913.6 380.4 915.5C384.3 917.4 386.3 918.6 388.3 920.8C390.3 923 391.9 926.2 392.3 928.6C392.8 931 393.1 930.6 391 935.2C388.9 939.8 381.6 951.4 379.8 956.2C378 961 378.1 961.2 380.4 964.1C382.7 967 390.3 970.4 393.6 973.3C396.9 976.1 399.1 978.8 400.2 981.2C401.3 983.6 400.2 986.7 400.2 987.8" fill="none" stroke="#000" stroke-width="1.44" />
<path d="M398.9 937.8C399.1 939.8 400.8 945.3 400.2 949.7C399.6 954.1 396.4 961.7 395.6 964.1" fill="none" stroke="#000" stroke-width="1.32" />
<path d="M322 893C322.9 894.8 327 900.2 327.5 904C328 907.8 325.4 914 325 916" fill="none" stroke="#000" stroke-width="1.44" />
<path d="M335.8 919.4 L335.5 934" fill="none" stroke="#000" stroke-width="1.44" />
<ellipse cx="326.6" cy="932.6" rx="4" ry="5.4" transform="rotate(-20 326.6 932.6)" fill="#fff" stroke="#000" stroke-width="1.8"/>
<ellipse cx="313.1" cy="903.7" rx="11.2" ry="14" transform="rotate(-20 313.1 903.7)" fill="#fff" stroke="#000" stroke-width="2.04"/>
<ellipse cx="313.3" cy="903.7" rx="7.2" ry="10" transform="rotate(-20 313.3 903.7)" fill="#fff" stroke="#000" stroke-width="1.68"/>
<path d="M356 1014.1L400.2 990.7A7 8.2 -28 0 0 392.5 976.2L348.4 999.7A7 8.2 -28 0 0 356 1014.1Z" fill="#fff" stroke="#000" stroke-width="1.92" />
<ellipse cx="352.2" cy="1006.9" rx="7" ry="8.2" transform="rotate(-28 352.2 1006.9)" fill="#fff" stroke="#000" stroke-width="1.92"/>
<ellipse cx="352.2" cy="1006.9" rx="8.6" ry="10.6" transform="rotate(-25 352.2 1006.9)" fill="#fff" stroke="#000" stroke-width="1.92"/>
<path d="M350 1000C350.7 1000.7 353.1 1002.3 354 1004C354.9 1005.7 355.2 1009 355.5 1010" fill="none" stroke="#000" stroke-width="0.96" />
<path d="M392.3 975.3C392.3 975.3 394.7 971.5 396 972.5C397.3 973.5 399.5 978.7 400.2 981.2C400.9 983.8 400.4 986.2 400.2 987.8C400 989.4 398.3 990.2 398.9 990.6C399.4 991 402.1 991.3 403.5 990.4C404.9 989.5 406.9 987.2 407.4 985.2C407.9 983.2 407.9 981.2 406.7 978.6C405.5 976 400.2 969.4 400.2 969.4" fill="#fff" stroke="#000" stroke-width="1.8" />
</g>
<g id="washers">
<ellipse cx="359" cy="878.4" rx="11.8" ry="15.6" transform="rotate(-22 359 878.4)" fill="#fff" stroke="#000" stroke-width="2.4"/>
<ellipse cx="359.6" cy="878.4" rx="6.8" ry="9.8" transform="rotate(-22 359.6 878.4)" fill="#fff" stroke="#000" stroke-width="2.04"/>
<path d="M359.3 868.8 L360.8 869.2 L362.4 870.1 L363.8 871.4 L365.1 873 L366.2 874.8 L367 876.9 L367.4 879 L367.5 881 L367.3 882.9 L366.7 884.5" fill="none" stroke="#000" stroke-width="1.2" />
<ellipse cx="292" cy="916.5" rx="11.8" ry="15.6" transform="rotate(-22 292 916.5)" fill="#fff" stroke="#000" stroke-width="2.4"/>
<ellipse cx="292.6" cy="916.5" rx="6.8" ry="9.8" transform="rotate(-22 292.6 916.5)" fill="#fff" stroke="#000" stroke-width="2.04"/>
<path d="M292.3 906.9 L293.8 907.3 L295.4 908.2 L296.8 909.5 L298.1 911.1 L299.2 912.9 L300 915 L300.4 917.1 L300.5 919.1 L300.3 921 L299.7 922.6" fill="none" stroke="#000" stroke-width="1.2" />
<path d="M262 933.7 L284.8 922.3" fill="none" stroke="#000" stroke-width="1.44" />
<path d="M288 920 L298 914.3" fill="none" stroke="#000" stroke-width="1.44" />
<path d="M306 909.8 L317 903.6" fill="none" stroke="#000" stroke-width="1.44" />
<path d="M353 882 L366 875.5" fill="none" stroke="#000" stroke-width="1.44" />
<path d="M371.5 872.5 L378 869" fill="none" stroke="#000" stroke-width="1.44" />
<path d="M336 890 L347 884.8" fill="none" stroke="#000" stroke-width="1.44" />
</g>
<g id="clip480">
<path d="M270.3 913.1 L271.9 913.4 L273.4 914 L274.9 914.9 L276.2 916.1 L277.5 917.4 L278.7 919 L279.7 920.7 L280.5 922.6 L281.1 924.6 L281.5 926.6 L281.8 928.6 L281.7 930.6 L281.5 932.6 L281.1 934.4 L280.5 936.1 L279.6 937.6 L278.6 939 L277.5 940.1 L276.2 940.9 L274.8 941.5 L273.3 941.8 L271.8 941.8 L270.3 941.5 L268.7 940.9 L267.3 940.1 L265.9 939 L264.5 937.7 L263.4 936.2 L262.3 934.5 L261.5 932.6 L260.8 930.7 L260.3 928.7 L260.1 926.6 L260 924.6 L260.2 922.7 L260.6 920.8 L261.2 919.1 L262 917.5 L262.9 916.1 L264.1 915 L267 917.9 L266.3 918.7 L265.7 919.7 L265.3 920.8 L264.9 922 L264.7 923.4 L264.6 924.8 L264.7 926.2 L264.9 927.7 L265.2 929.2 L265.7 930.6 L266.3 931.9 L267 933.2 L267.8 934.3 L268.7 935.3 L269.6 936.1 L270.6 936.7 L271.6 937.1 L272.6 937.4 L273.5 937.4 L274.5 937.2 L275.4 936.8 L276.2 936.3 L276.9 935.5 L277.5 934.6 L278 933.5 L278.4 932.3 L278.7 930.9 L278.8 929.5 L278.7 928.1 L278.6 926.6 L278.2 925.2 L277.8 923.7 L277.2 922.4 L276.6 921.1 L275.8 920 L274.9 918.9 L274 918.1 L273 917.4 L272.1 916.9 L271.1 916.7Z" fill="#fff" stroke="#000" stroke-width="2.28" />
<path d="M274.2 916.5 L275.2 917.3 L276.1 918.3 L277 919.4 L277.8 920.7 L278.4 922 L279 923.4 L279.5 924.8 L279.8 926.3 L280 927.8 L280.1 929.3 L280 930.8 L279.8 932.2 L279.5 933.5 L279.1 934.8 L278.5 935.9 L277.9 936.9 L277.1 937.8 L276.3 938.5 L275.4 939 L274.4 939.4 L273.4 939.6 L272.3 939.6 L271.2 939.4 L270.2 939.1 L269.1 938.5 L268.1 937.8 L267.1 937 L266.2 936 L265.3 934.9 L264.6 933.6 L263.9 932.3 L263.3 930.9 L262.9 929.4 L262.6 927.9 L262.4 926.4 L262.3 924.9 L262.4 923.5 L262.6 922.1 L262.9 920.7 L263.4 919.5" fill="none" stroke="#000" stroke-width="1.08" />
<path d="M270.3 913.1 L276.2 916.1 L274.9 918.9 L271.1 916.7Z" fill="#000" stroke="#000" stroke-width="1.68" />
<path d="M264.1 915 L260.6 920.8 L264.9 922 L267 917.9Z" fill="#000" stroke="#000" stroke-width="1.68" />
<path d="M234 950.4 L261 937.4" fill="none" stroke="#000" stroke-width="1.44" />
<path d="M264 932.7 L276 926.6" fill="none" stroke="#000" stroke-width="1.44" />
</g>
<g id="grip">
<path d="M292.4 1056.5L337.7 1030.9A9.1 12.6 -29.5 0 0 325.3 1008.9L280 1034.5A9.1 12.6 -29.5 0 0 292.4 1056.5Z" fill="#fff" stroke="#000" stroke-width="2.16" />
<ellipse cx="286.2" cy="1045.5" rx="9.1" ry="12.6" transform="rotate(-29.5 286.2 1045.5)" fill="#fff" stroke="#000" stroke-width="2.16"/>
<path d="M287.5 1030.5 L289.6 1030.1 L291.9 1030.4 L294.2 1031.5 L296.4 1033.1 L298.3 1035.3 L299.9 1038 L301 1040.8 L301.6 1043.8 L301.6 1046.6 L301 1049.2 L300 1051.3 L298.4 1052.9" fill="none" stroke="#000" stroke-width="3.0" />
<path d="M293.1 1027.3 L295.3 1026.9 L297.5 1027.2 L299.8 1028.3 L302 1029.9 L304 1032.1 L305.5 1034.8 L306.6 1037.6 L307.2 1040.6 L307.2 1043.4 L306.7 1046 L305.6 1048.1 L304.1 1049.7" fill="none" stroke="#000" stroke-width="3.0" />
<path d="M298.8 1024.1 L300.9 1023.7 L303.2 1024 L305.5 1025.1 L307.7 1026.7 L309.6 1028.9 L311.2 1031.6 L312.3 1034.4 L312.9 1037.4 L312.9 1040.2 L312.4 1042.8 L311.3 1044.9 L309.7 1046.5" fill="none" stroke="#000" stroke-width="3.0" />
<path d="M304.5 1020.9 L306.6 1020.5 L308.8 1020.8 L311.1 1021.9 L313.3 1023.5 L315.3 1025.7 L316.8 1028.4 L318 1031.2 L318.5 1034.2 L318.6 1037 L318 1039.6 L316.9 1041.7 L315.4 1043.3" fill="none" stroke="#000" stroke-width="3.0" />
<path d="M310.1 1017.7 L312.2 1017.3 L314.5 1017.6 L316.8 1018.7 L319 1020.3 L320.9 1022.5 L322.5 1025.2 L323.6 1028 L324.2 1031 L324.2 1033.8 L323.7 1036.4 L322.6 1038.5 L321 1040.1" fill="none" stroke="#000" stroke-width="3.0" />
<path d="M315.8 1014.5 L317.9 1014.1 L320.2 1014.4 L322.5 1015.5 L324.6 1017.1 L326.6 1019.3 L328.2 1022 L329.3 1024.8 L329.9 1027.8 L329.9 1030.6 L329.3 1033.2 L328.3 1035.3 L326.7 1036.9" fill="none" stroke="#000" stroke-width="3.0" />
<path d="M321.4 1011.3 L323.5 1010.9 L325.8 1011.2 L328.1 1012.3 L330.3 1013.9 L332.2 1016.1 L333.8 1018.8 L334.9 1021.6 L335.5 1024.6 L335.5 1027.4 L335 1030 L333.9 1032.1 L332.4 1033.7" fill="none" stroke="#000" stroke-width="3.0" />
<path d="M325.3 1009.1 L327.5 1008.7 L329.7 1009 L332 1010 L334.2 1011.7 L336.2 1013.9 L337.7 1016.5 L338.8 1019.4 L339.4 1022.4 L339.4 1025.2 L338.9 1027.8 L337.8 1029.9 L336.3 1031.5" fill="none" stroke="#000" stroke-width="2.4" />
<path d="M294.7 1028.8 L296.3 1029.4 L297.9 1030.4 L299.4 1031.7 L300.8 1033.2 L302 1035 L303 1036.9 L303.8 1039 L304.3 1041 L304.5 1043.1 L304.5 1045.1" fill="none" stroke="#000" stroke-width="0.96" />
<path d="M300.3 1025.6 L302 1026.2 L303.6 1027.2 L305.1 1028.5 L306.5 1030 L307.7 1031.8 L308.7 1033.7 L309.4 1035.8 L309.9 1037.8 L310.2 1039.9 L310.1 1041.9" fill="none" stroke="#000" stroke-width="0.96" />
<path d="M306 1022.4 L307.6 1023 L309.2 1024 L310.7 1025.3 L312.1 1026.8 L313.3 1028.6 L314.3 1030.5 L315.1 1032.6 L315.6 1034.6 L315.8 1036.7 L315.8 1038.7" fill="none" stroke="#000" stroke-width="0.96" />
<path d="M311.7 1019.2 L313.3 1019.8 L314.9 1020.8 L316.4 1022.1 L317.8 1023.6 L319 1025.4 L320 1027.3 L320.8 1029.4 L321.3 1031.4 L321.5 1033.5 L321.4 1035.5" fill="none" stroke="#000" stroke-width="0.96" />
<path d="M317.3 1016 L318.9 1016.6 L320.5 1017.6 L322.1 1018.9 L323.4 1020.4 L324.6 1022.2 L325.7 1024.1 L326.4 1026.2 L326.9 1028.2 L327.1 1030.3 L327.1 1032.3" fill="none" stroke="#000" stroke-width="0.96" />
<path d="M322.5 1013 L324.2 1013.7 L325.8 1014.7 L327.3 1015.9 L328.7 1017.5 L329.9 1019.2 L330.9 1021.2 L331.6 1023.2 L332.1 1025.3 L332.4 1027.4 L332.3 1029.3" fill="none" stroke="#000" stroke-width="0.96" />
<ellipse cx="286.2" cy="1045.5" rx="9.8" ry="12.4" transform="rotate(-24 286.2 1045.5)" fill="#fff" stroke="#000" stroke-width="2.16"/>
<ellipse cx="285.6" cy="1047" rx="5" ry="6.6" transform="rotate(-24 285.6 1047)" fill="#fff" stroke="#000" stroke-width="2.64"/>
</g>
<g id="rod39110">
<path d="M424.2 913.2 L428.5 913" fill="none" stroke="#000" stroke-width="1.44" />
<path d="M584.6 906.1 L593.5 905.7" fill="none" stroke="#000" stroke-width="1.44" />
<path d="M610 905 L621 904.5" fill="none" stroke="#000" stroke-width="1.44" />
<path d="M451 908.5 L561.9 903.7 L562.1 909.3 L451.2 914.1Z" fill="#fff" stroke="#000" stroke-width="1.68" />
<path d="M430.8 916.4L450.3 915.5A4.2 4.2 0 0 0 449.9 907.1L430.4 908A4.2 4.2 0 0 0 430.8 916.4Z" fill="#fff" stroke="#000" stroke-width="2.28" />
<path d="M564.1 910.4L582.1 909.6A4 4 0 0 0 581.8 901.6L563.8 902.4A4 4 0 0 0 564.1 910.4Z" fill="#fff" stroke="#000" stroke-width="2.28" />
<path d="M433.2 909.3 L432.8 914.9" fill="none" stroke="#000" stroke-width="1.5" />
<path d="M565.9 903.7 L565.5 908.9" fill="none" stroke="#000" stroke-width="1.5" />
<path d="M435.4 909.2 L435 914.8" fill="none" stroke="#000" stroke-width="1.5" />
<path d="M567.9 903.6 L567.5 908.8" fill="none" stroke="#000" stroke-width="1.5" />
<path d="M437.6 909.1 L437.2 914.7" fill="none" stroke="#000" stroke-width="1.5" />
<path d="M570 903.5 L569.6 908.7" fill="none" stroke="#000" stroke-width="1.5" />
<path d="M439.8 909 L439.4 914.6" fill="none" stroke="#000" stroke-width="1.5" />
<path d="M572 903.4 L571.6 908.6" fill="none" stroke="#000" stroke-width="1.5" />
<path d="M442 908.9 L441.6 914.5" fill="none" stroke="#000" stroke-width="1.5" />
<path d="M574 903.3 L573.7 908.5" fill="none" stroke="#000" stroke-width="1.5" />
<path d="M444.2 908.8 L443.8 914.4" fill="none" stroke="#000" stroke-width="1.5" />
<path d="M576.1 903.2 L575.7 908.5" fill="none" stroke="#000" stroke-width="1.5" />
<path d="M446.4 908.7 L446 914.3" fill="none" stroke="#000" stroke-width="1.5" />
<path d="M578.1 903.1 L577.8 908.4" fill="none" stroke="#000" stroke-width="1.5" />
<path d="M448.6 908.6 L448.2 914.2" fill="none" stroke="#000" stroke-width="1.5" />
<path d="M580.2 903.1 L579.8 908.3" fill="none" stroke="#000" stroke-width="1.5" />
<ellipse cx="583.5" cy="905.5" rx="1.8" ry="3.6" transform="rotate(0 583.5 905.5)" fill="#fff" stroke="#000" stroke-width="1.44"/>
<path d="M424 913.7 L419.6 922 L410.8 922 L406.4 913.7 L410.8 905.4 L419.6 905.4Z" fill="#fff" stroke="#000" stroke-width="2.16" />
<ellipse cx="417.5" cy="913.1" rx="5.4" ry="5.8" transform="rotate(0 417.5 913.1)" fill="#000" stroke="#000" stroke-width="1.2"/>
<path d="M410.8 922 L411.9 916.5 L411.9 909.5 L410.8 905.4" fill="none" stroke="#000" stroke-width="1.2" />
<path d="M609.9 905.4 L605.8 913.1 L597.6 913.1 L593.5 905.4 L597.6 897.7 L605.8 897.7Z" fill="#fff" stroke="#000" stroke-width="2.16" />
<ellipse cx="603.3" cy="904.8" rx="5" ry="5.3" transform="rotate(0 603.3 904.8)" fill="#000" stroke="#000" stroke-width="1.2"/>
<path d="M597.6 913.1 L598.7 908 L598.7 901.5 L597.6 897.7" fill="none" stroke="#000" stroke-width="1.2" />
<path d="M414.3 923.3 L421.4 931 L443.3 931" fill="none" stroke="#000" stroke-width="1.56" />
</g>
<g id="lever13242">
<path d="M703.2 842.4C704.4 836.8 711.4 838.3 715.4 838.3C719.4 838.3 724.3 839.9 727.5 842.4C730.7 844.9 733.4 850.5 734.6 853.5C735.8 856.5 735.8 857.9 734.6 860.6C733.4 863.3 730.3 867.4 727.5 869.7C724.7 872 721.2 874.1 718 874.5C714.8 874.9 710.5 877.4 708 872C705.5 866.6 702 848 703.2 842.4Z" fill="#fff" stroke="#000" stroke-width="2.04" />
<ellipse cx="712.9" cy="857.5" rx="12.6" ry="18.2" transform="rotate(-28 712.9 857.5)" fill="#fff" stroke="#000" stroke-width="2.16"/>
<ellipse cx="713.6" cy="858" rx="9.8" ry="14.6" transform="rotate(-28 713.6 858)" fill="#fff" stroke="#000" stroke-width="1.56"/>
<path d="M708 846.5 L718 858 L722 869" fill="none" stroke="#000" stroke-width="1.2" />
<path d="M706 858 L718 858" fill="none" stroke="#000" stroke-width="1.08" />
<path d="M700.2 864.6 L658.8 892.9" fill="none" stroke="#000" stroke-width="1.56" />
<path d="M665 841 L668 838.3 L677.5 838.3 L680 841 L680 846.5 L677 849.6 L668 849.6 L665 846.5Z" fill="#fff" stroke="#000" stroke-width="2.16" />
<path d="M668 838.3 L668.5 843 L668 849.6" fill="none" stroke="#000" stroke-width="1.2" />
<path d="M677.5 838.3 L677 843 L677 849.6" fill="none" stroke="#000" stroke-width="1.2" />
<path d="M668.3 850.7L672.3 874.4A1.5 4.4 80.3 0 0 681 872.9L676.9 849.3A1.5 4.4 80.3 0 1 668.3 850.7Z" fill="#fff" stroke="#000" stroke-width="1.8" />
<ellipse cx="676.6" cy="873.7" rx="1.5" ry="4.4" transform="rotate(80.3 676.6 873.7)" fill="#fff" stroke="#000" stroke-width="1.8"/>
<path d="M668.5 852.2L677.6 853.4M669 854.9L678.1 856M669.4 857.5L678.5 858.7M669.9 860.2L679 861.3M670.3 862.8L679.4 864M670.8 865.5L679.9 866.6M671.2 868.1L680.4 869.3M671.7 870.8L680.8 871.9" fill="none" stroke="#000" stroke-width="1.8" />
<path d="M677 874.7 L683 921.2" fill="none" stroke="#000" stroke-width="1.32" />
<path d="M621.5 911.4L630.5 910.8A4.3 7.2 -4 0 0 629.5 896.4L620.5 897A4.3 7.2 -4 0 0 621.5 911.4Z" fill="#fff" stroke="#000" stroke-width="2.16" />
<ellipse cx="621" cy="904.2" rx="4.3" ry="7.2" transform="rotate(-4 621 904.2)" fill="#fff" stroke="#000" stroke-width="2.16"/>
<path d="M624.1 896.8 L625.3 897.2 L626.5 898.2 L627.5 899.7 L628.1 901.6 L628.5 903.7 L628.4 905.8 L628 907.7 L627.3 909.4 L626.3 910.5 L625.1 911.1" fill="none" stroke="#000" stroke-width="2.88" />
<path d="M627.5 896.6 L628.7 897 L629.9 898 L630.9 899.5 L631.5 901.4 L631.9 903.4 L631.8 905.6 L631.4 907.5 L630.7 909.1 L629.7 910.3 L628.5 910.9" fill="none" stroke="#000" stroke-width="2.4" />
<path d="M647.6 927.3 L648.6 935.4 L654.7 945.5 L672.9 954.6 L685 958.6 L684 935.4 L656.7 923.2Z" fill="#fff" stroke="#000" stroke-width="2.04" />
<path d="M700.2 925.3 L701.6 939.4 L700.6 951.6 L685 958.6 L684 935.4Z" fill="#fff" stroke="#000" stroke-width="2.04" />
<path d="M657.7 915.2 L672.9 912.1 L695.2 920.2 L700.2 925.3 L684 935.4 L656.7 923.2Z" fill="#fff" stroke="#000" stroke-width="2.04" />
<path d="M684 942.5 L701.2 936.4" fill="none" stroke="#000" stroke-width="1.56" />
<path d="M685 945.5 L701.2 939.4" fill="none" stroke="#000" stroke-width="1.56" />
<ellipse cx="659.8" cy="936.4" rx="7.7" ry="9.2" transform="rotate(-15 659.8 936.4)" fill="#fff" stroke="#000" stroke-width="2.16"/>
<path d="M656 929.5 L655.5 943.5" fill="none" stroke="#000" stroke-width="1.32" />
<path d="M658.4 930.1 L657.9 943.8" fill="none" stroke="#000" stroke-width="1.32" />
<path d="M660.8 930.7 L660.3 944.1" fill="none" stroke="#000" stroke-width="1.32" />
<path d="M663.2 931.3 L662.7 944.4" fill="none" stroke="#000" stroke-width="1.32" />
<path d="M665.6 931.9 L665.1 944.7" fill="none" stroke="#000" stroke-width="1.32" />
<ellipse cx="683" cy="923.3" rx="3" ry="2" transform="rotate(0 683 923.3)" fill="#fff" stroke="#000" stroke-width="1.44"/>
<path d="M677 874.7 L682.6 921" fill="none" stroke="#000" stroke-width="1.32" />
<path d="M631.5 899C631.5 899 635.6 892.9 638.5 890.9C641.4 888.9 645.6 886.8 648.6 886.8C651.6 886.8 654.5 888.9 656.7 890.9C658.9 892.9 660.9 896.3 661.8 899C662.6 901.7 662.3 904.8 661.8 907.1C661.3 909.5 660 911.6 658.8 913.1C657.6 914.6 654.7 916 654.7 916C654.7 916 650.7 915.2 650.7 915.2C650.7 915.2 648.3 907.7 646.6 905C644.9 902.3 642.8 900.2 640.6 899C638.4 897.8 635 898 633.5 898C632 898 631.5 899 631.5 899Z" fill="#fff" stroke="#000" stroke-width="2.04" />
<path d="M643.6 892.9C644.8 893.9 648.9 896.6 650.7 899C652.6 901.4 654.2 904.8 654.7 907.1C655.2 909.5 653.9 912.1 653.7 913.1" fill="none" stroke="#000" stroke-width="1.56" />
<path d="M631.5 899C631.5 899 629.4 904.1 629.4 907.1C629.4 910.1 630.1 913.5 631.5 917.2C632.9 920.9 637.5 929.3 637.5 929.3C637.5 929.3 641.4 929.3 644.6 928.3C647.8 927.3 656.7 923.2 656.7 923.2C656.7 923.2 657.7 917.2 657.7 917.2C657.7 917.2 650.7 915.2 650.7 915.2C650.7 915.2 648.3 907.7 646.6 905C644.9 902.3 642.8 900.2 640.6 899C638.4 897.8 635 898 633.5 898C632 898 631.5 899 631.5 899Z" fill="#fff" stroke="#000" stroke-width="2.04" />
<ellipse cx="636.9" cy="909.1" rx="3.6" ry="5" transform="rotate(-15 636.9 909.1)" fill="#fff" stroke="#000" stroke-width="1.8"/>
<path d="M700.2 864.6 L661 891.5" fill="none" stroke="#000" stroke-width="1.56" />
</g>
<g id="labels">
<text x="765.3" y="331.7" font-size="14.6" font-weight="normal" fill="#000" stroke="#000" stroke-width="0.75" textLength="44.3" lengthAdjust="spacingAndGlyphs" text-anchor="start" xml:space="preserve">92043</text>
<text x="765.3" y="371.6" font-size="14.6" font-weight="normal" fill="#000" stroke="#000" stroke-width="0.75" textLength="43" lengthAdjust="spacingAndGlyphs" text-anchor="start" xml:space="preserve">92081</text>
<text x="766" y="407.5" font-size="14.6" font-weight="normal" fill="#000" stroke="#000" stroke-width="0.75" textLength="42.5" lengthAdjust="spacingAndGlyphs" text-anchor="start" xml:space="preserve">92001</text>
<text x="408.1" y="421" font-size="14.6" font-weight="normal" fill="#000" stroke="#000" stroke-width="0.75" textLength="53.1" lengthAdjust="spacingAndGlyphs" text-anchor="start" xml:space="preserve">92001B</text>
<text x="363.9" y="437.9" font-size="14.6" font-weight="normal" fill="#000" stroke="#000" stroke-width="0.75" textLength="54.4" lengthAdjust="spacingAndGlyphs" text-anchor="start" xml:space="preserve">92022A</text>
<text x="754.4" y="468.4" font-size="14.6" font-weight="normal" fill="#000" stroke="#000" stroke-width="0.75" textLength="55.6" lengthAdjust="spacingAndGlyphs" text-anchor="start" xml:space="preserve">92001A</text>
<text x="595.2" y="586" font-size="14.6" font-weight="normal" fill="#000" stroke="#000" stroke-width="0.75" textLength="54.3" lengthAdjust="spacingAndGlyphs" text-anchor="start" xml:space="preserve">92081A</text>
<text x="774.6" y="680" font-size="14.6" font-weight="normal" fill="#000" stroke="#000" stroke-width="0.75" textLength="52" lengthAdjust="spacingAndGlyphs" text-anchor="start" xml:space="preserve">92081B</text>
<text x="661.3" y="746.6" font-size="14.6" font-weight="normal" fill="#000" stroke="#000" stroke-width="0.75" textLength="39.7" lengthAdjust="spacingAndGlyphs" text-anchor="start" xml:space="preserve">13161</text>
<text x="327.4" y="827.3" font-size="14.6" font-weight="normal" fill="#000" stroke="#000" stroke-width="0.75" textLength="43.8" lengthAdjust="spacingAndGlyphs" text-anchor="start" xml:space="preserve">92022</text>
<text x="263.5" y="870.3" font-size="14.6" font-weight="normal" fill="#000" stroke="#000" stroke-width="0.75" textLength="43.7" lengthAdjust="spacingAndGlyphs" text-anchor="start" xml:space="preserve">92022</text>
<text x="260.4" y="972.4" font-size="14.6" font-weight="normal" fill="#000" stroke="#000" stroke-width="0.75" textLength="26.6" lengthAdjust="spacingAndGlyphs" text-anchor="start" xml:space="preserve">480</text>
<text x="283.2" y="995.1" font-size="14.6" font-weight="normal" fill="#000" stroke="#000" stroke-width="0.75" textLength="44.2" lengthAdjust="spacingAndGlyphs" text-anchor="start" xml:space="preserve">92075</text>
<text x="337.5" y="1081.4" font-size="14.6" font-weight="normal" fill="#000" stroke="#000" stroke-width="0.75" textLength="53.9" lengthAdjust="spacingAndGlyphs" text-anchor="start" xml:space="preserve">13242A</text>
<text x="445.6" y="934.9" font-size="14.6" font-weight="normal" fill="#000" stroke="#000" stroke-width="0.75" textLength="25.8" lengthAdjust="spacingAndGlyphs" text-anchor="start" xml:space="preserve">311</text>
<text x="534.1" y="934.1" font-size="14.6" font-weight="normal" fill="#000" stroke="#000" stroke-width="0.75" textLength="44.2" lengthAdjust="spacingAndGlyphs" text-anchor="start" xml:space="preserve">92015</text>
<text x="497.4" y="975.3" font-size="14.6" font-weight="normal" fill="#000" stroke="#000" stroke-width="0.75" textLength="43.6" lengthAdjust="spacingAndGlyphs" text-anchor="start" xml:space="preserve">39110</text>
<text x="660.9" y="812.9" font-size="14.6" font-weight="normal" fill="#000" stroke="#000" stroke-width="0.75" textLength="22.7" lengthAdjust="spacingAndGlyphs" text-anchor="start" xml:space="preserve">112</text>
<text x="706.3" y="909.1" font-size="14.6" font-weight="normal" fill="#000" stroke="#000" stroke-width="0.75" textLength="43.5" lengthAdjust="spacingAndGlyphs" text-anchor="start" xml:space="preserve">49006</text>
<text x="655.7" y="1004.1" font-size="14.6" font-weight="normal" fill="#000" stroke="#000" stroke-width="0.75" textLength="40.9" lengthAdjust="spacingAndGlyphs" text-anchor="start" xml:space="preserve">13242</text>
<text x="779" y="11.3" font-size="13" font-weight="normal" fill="#000" stroke="#000" stroke-width="0.2" textLength="71.8" lengthAdjust="spacingAndGlyphs" text-anchor="start" xml:space="preserve">E1370-0067</text>
<text x="431.7" y="882" font-size="14.6" font-weight="normal" fill="#000" stroke="#000" stroke-width="0.7" textLength="129" lengthAdjust="spacingAndGlyphs" transform="rotate(-1.5 431.7 882)" text-anchor="start" xml:space="preserve">Ref.  Engine Cover</text>
<text x="247.2" y="171.6" font-size="14.8" font-weight="normal" fill="#000" stroke="#000" stroke-width="0.7" textLength="28" lengthAdjust="spacingAndGlyphs" transform="rotate(-22 247.2 171.6)" text-anchor="start" xml:space="preserve">Ref.</text>
<text x="293.4" y="153" font-size="15.4" font-weight="normal" fill="#000" stroke="#000" stroke-width="0.65" textLength="209" lengthAdjust="spacingAndGlyphs" transform="rotate(-22 293.4 153)" text-anchor="start" xml:space="preserve">Gear change drum &amp; forks</text>
<text x="2.4" y="1153.9" font-size="24" font-weight="bold" fill="#000" textLength="420" lengthAdjust="spacingAndGlyphs" text-anchor="start" xml:space="preserve">Illustrations (c) 1966–2003 Kawasaki</text>
<text x="2.4" y="1182.4" font-size="24" font-weight="bold" fill="#000" textLength="466" lengthAdjust="spacingAndGlyphs" text-anchor="start" xml:space="preserve">Motors Corp., U.S.A.  All rights reserved.</text>
<path d="M726.2 326.6 L765.3 325.9" fill="none" stroke="#000" stroke-width="1.56" />
<path d="M725 368.3 L759 367.6" fill="none" stroke="#000" stroke-width="1.56" />
<path d="M730 403 L765.3 402.4" fill="none" stroke="#000" stroke-width="1.56" />
<path d="M433.4 382.3 L433.4 408.8" fill="none" stroke="#000" stroke-width="1.56" />
<path d="M423.3 327.9 L387.9 398.7 L389.2 424" fill="none" stroke="#000" stroke-width="1.56" />
<path d="M778.4 473 L778.4 511" fill="none" stroke="#000" stroke-width="1.56" />
<path d="M619.2 590.5 L620 624.6" fill="none" stroke="#000" stroke-width="1.56" />
<path d="M800 632.2 L800 666.4" fill="none" stroke="#000" stroke-width="1.56" />
<path d="M680.3 694 L681 734.4" fill="none" stroke="#000" stroke-width="1.56" />
<path d="M350.2 830.3 L350.2 867" fill="none" stroke="#000" stroke-width="1.56" />
<path d="M286.2 873.3 L286.2 902.4" fill="none" stroke="#000" stroke-width="1.56" />
<path d="M274.3 936.5 L274.3 959.8" fill="none" stroke="#000" stroke-width="1.56" />
<path d="M304.7 998.4 L304.7 1017.4" fill="none" stroke="#000" stroke-width="1.56" />
<path d="M362.8 1033.4 L362.8 1066.3" fill="none" stroke="#000" stroke-width="1.56" />
<path d="M407 859.4 L407 873.3 L412 877 L429.8 877" fill="none" stroke="#000" stroke-width="1.56" />
<path d="M415.3 922.3 L420.3 931.1 L444.3 931.1" fill="none" stroke="#000" stroke-width="1.56" />
<path d="M578.3 928.1 L591 928.1 L599.8 914.7" fill="none" stroke="#000" stroke-width="1.56" />
<path d="M519.4 937.4 L519.4 971.6" fill="none" stroke="#000" stroke-width="1.56" />
<path d="M672 815.4 L672 838.1" fill="none" stroke="#000" stroke-width="1.56" />
<path d="M727.5 868.6 L728.5 897" fill="none" stroke="#000" stroke-width="1.56" />
<path d="M675 955.6 L675 990" fill="none" stroke="#000" stroke-width="1.56" />
<path d="M245.8 169.1 L229.9 174.7 L236.2 190.6" fill="none" stroke="#000" stroke-width="1.56" />
<path d="M975.5 84.3 L985.5 84.3" fill="none" stroke="#000" stroke-width="4.8" />
</g>
</svg>
</body></html>
